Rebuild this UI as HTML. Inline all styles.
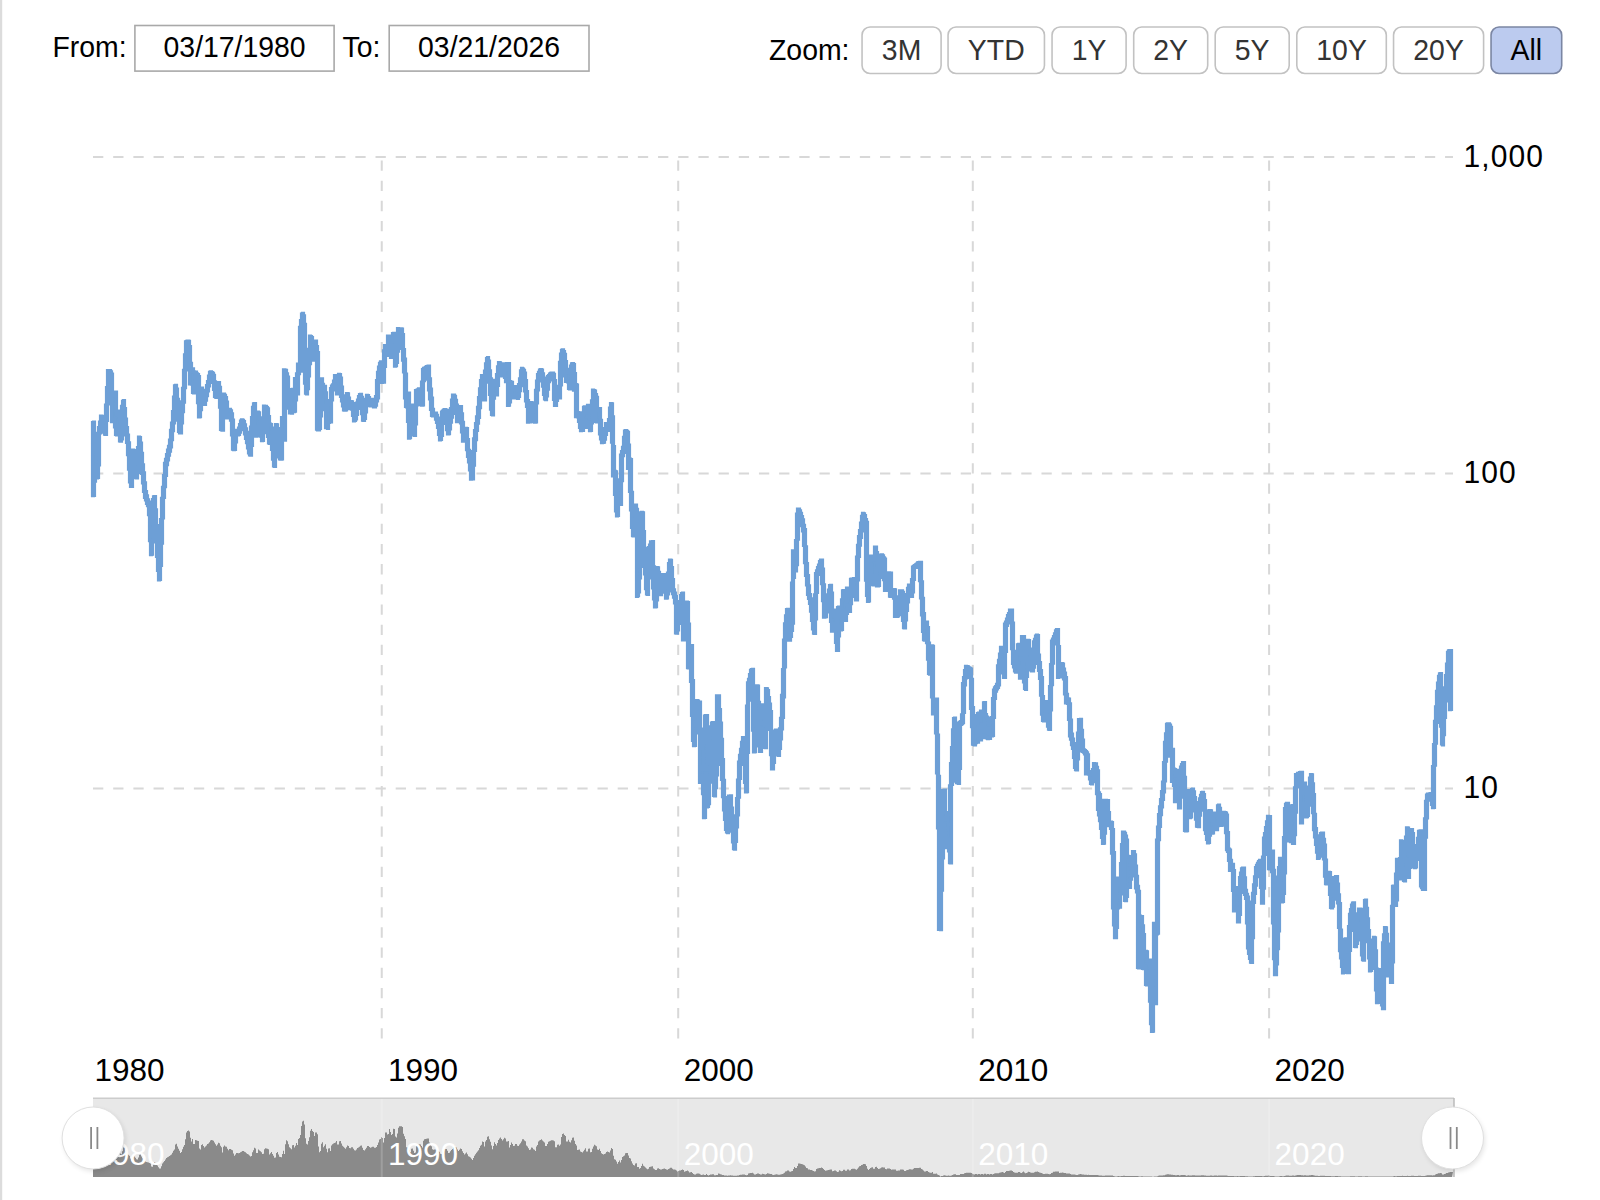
<!DOCTYPE html>
<html><head><meta charset="utf-8"><style>
html,body{margin:0;padding:0;background:#fff;width:1600px;height:1200px;overflow:hidden}
svg{position:absolute;left:0;top:0;font-family:"Liberation Sans", sans-serif}
</style></head><body>
<svg width="1600" height="1200" viewBox="0 0 1600 1200">
<defs><filter id="blur" x="-50%" y="-50%" width="200%" height="200%"><feGaussianBlur stdDeviation="2.5"/></filter></defs>
<rect x="0" y="0" width="2.2" height="1200" fill="#dcdcdc"/>
<text transform="translate(52.50,57.30) scale(1,1.060)" font-size="28.4" text-anchor="start" fill="#000" >From:</text>
<rect x="134.9" y="25.5" width="199.2" height="45.6" fill="#fff" stroke="#a9a9a9" stroke-width="1.6"/>
<text transform="translate(234.60,57.30) scale(1,1.060)" font-size="28.4" text-anchor="middle" fill="#000" >03/17/1980</text>
<text transform="translate(342.50,57.30) scale(1,1.060)" font-size="28.4" text-anchor="start" fill="#000" >To:</text>
<rect x="389.2" y="25.5" width="199.8" height="45.6" fill="#fff" stroke="#a9a9a9" stroke-width="1.6"/>
<text transform="translate(489.10,57.30) scale(1,1.060)" font-size="28.4" text-anchor="middle" fill="#000" >03/21/2026</text>
<text transform="translate(769.00,59.80) scale(1,1.060)" font-size="28.4" text-anchor="start" fill="#000" >Zoom:</text>
<rect x="862.05" y="27" width="79.05" height="46.5" rx="8" ry="8" fill="#ffffff" stroke="#c2c2c2" stroke-width="1.6"/><text transform="translate(901.58,59.80) scale(1,1.060)" font-size="28.4" text-anchor="middle" fill="#333" >3M</text><rect x="948.05" y="27" width="96.40" height="46.5" rx="8" ry="8" fill="#ffffff" stroke="#c2c2c2" stroke-width="1.6"/><text transform="translate(996.25,59.80) scale(1,1.060)" font-size="28.4" text-anchor="middle" fill="#333" >YTD</text><rect x="1052.05" y="27" width="74.05" height="46.5" rx="8" ry="8" fill="#ffffff" stroke="#c2c2c2" stroke-width="1.6"/><text transform="translate(1089.08,59.80) scale(1,1.060)" font-size="28.4" text-anchor="middle" fill="#333" >1Y</text><rect x="1133.70" y="27" width="74.00" height="46.5" rx="8" ry="8" fill="#ffffff" stroke="#c2c2c2" stroke-width="1.6"/><text transform="translate(1170.70,59.80) scale(1,1.060)" font-size="28.4" text-anchor="middle" fill="#333" >2Y</text><rect x="1215.20" y="27" width="74.00" height="46.5" rx="8" ry="8" fill="#ffffff" stroke="#c2c2c2" stroke-width="1.6"/><text transform="translate(1252.20,59.80) scale(1,1.060)" font-size="28.4" text-anchor="middle" fill="#333" >5Y</text><rect x="1296.80" y="27" width="89.50" height="46.5" rx="8" ry="8" fill="#ffffff" stroke="#c2c2c2" stroke-width="1.6"/><text transform="translate(1341.55,59.80) scale(1,1.060)" font-size="28.4" text-anchor="middle" fill="#333" >10Y</text><rect x="1393.55" y="27" width="90.05" height="46.5" rx="8" ry="8" fill="#ffffff" stroke="#c2c2c2" stroke-width="1.6"/><text transform="translate(1438.58,59.80) scale(1,1.060)" font-size="28.4" text-anchor="middle" fill="#333" >20Y</text><rect x="1491.05" y="27" width="70.65" height="46.5" rx="8" ry="8" fill="#bccbef" stroke="#7b86a3" stroke-width="1.6"/><text transform="translate(1526.38,59.80) scale(1,1.060)" font-size="28.4" text-anchor="middle" fill="#000" >All</text>
<line x1="93" y1="157.0" x2="1453" y2="157.0" stroke="#d8d8d8" stroke-width="2" stroke-dasharray="10.3 9.88"/><line x1="93" y1="473.5" x2="1453" y2="473.5" stroke="#d8d8d8" stroke-width="2" stroke-dasharray="10.3 9.88"/><line x1="93" y1="788.5" x2="1453" y2="788.5" stroke="#d8d8d8" stroke-width="2" stroke-dasharray="10.3 9.88"/><line x1="381.75" y1="160.5" x2="381.75" y2="1039.5" stroke="#d8d8d8" stroke-width="2" stroke-dasharray="10.3 9.88"/><line x1="678.20" y1="160.5" x2="678.20" y2="1039.5" stroke="#d8d8d8" stroke-width="2" stroke-dasharray="10.3 9.88"/><line x1="972.80" y1="160.5" x2="972.80" y2="1039.5" stroke="#d8d8d8" stroke-width="2" stroke-dasharray="10.3 9.88"/><line x1="1269.10" y1="160.5" x2="1269.10" y2="1039.5" stroke="#d8d8d8" stroke-width="2" stroke-dasharray="10.3 9.88"/>
<path d="M92.5,422.5 V422.5 H93.5 V422.1 H94.5 V448.5 H95.5 V448.8 H96.5 V454.3 H97.5 V433.3 H98.5 V427.6 H99.5 V422.0 H100.5 V416.0 H101.5 V416.3 H102.5 V416.8 H103.5 V421.9 H104.5 V421.5 H105.5 V405.2 H106.5 V387.7 H107.5 V370.5 H108.5 V370.5 H109.5 V370.5 H110.5 V371.9 H111.5 V374.0 H112.5 V394.7 H113.5 V392.7 H114.5 V392.2 H115.5 V392.2 H116.5 V414.7 H117.5 V412.0 H118.5 V411.1 H119.5 V418.8 H120.5 V423.7 H121.5 V406.3 H122.5 V401.4 H123.5 V400.5 H124.5 V408.5 H125.5 V419.1 H126.5 V427.5 H127.5 V435.1 H128.5 V442.8 H129.5 V455.6 H130.5 V470.0 H131.5 V460.0 H132.5 V450.0 H133.5 V450.7 H134.5 V455.4 H135.5 V462.2 H136.5 V460.6 H137.5 V447.5 H138.5 V437.2 H139.5 V437.7 H140.5 V443.1 H141.5 V453.3 H142.5 V464.8 H143.5 V472.9 H144.5 V482.8 H145.5 V491.7 H146.5 V495.9 H147.5 V499.8 H148.5 V502.2 H149.5 V505.6 H150.5 V515.7 H151.5 V522.5 H152.5 V499.6 H153.5 V496.8 H154.5 V496.7 H155.5 V509.9 H156.5 V525.5 H157.5 V541.4 H158.5 V557.0 H159.5 V545.0 H160.5 V519.6 H161.5 V498.3 H162.5 V487.3 H163.5 V475.7 H164.5 V463.4 H165.5 V459.4 H166.5 V454.6 H167.5 V450.1 H168.5 V446.4 H169.5 V440.0 H170.5 V430.3 H171.5 V423.0 H172.5 V411.6 H173.5 V397.1 H174.5 V385.9 H175.5 V385.3 H176.5 V389.1 H177.5 V399.3 H178.5 V409.9 H179.5 V419.6 H180.5 V412.0 H181.5 V401.8 H182.5 V388.4 H183.5 V370.4 H184.5 V354.9 H185.5 V341.8 H186.5 V341.3 H187.5 V341.0 H188.5 V341.3 H189.5 V346.5 H190.5 V363.3 H191.5 V369.0 H192.5 V368.8 H193.5 V371.9 H194.5 V372.2 H195.5 V372.2 H196.5 V373.9 H197.5 V374.7 H198.5 V376.6 H199.5 V398.1 H200.5 V388.8 H201.5 V388.2 H202.5 V390.4 H203.5 V397.4 H204.5 V395.1 H205.5 V390.3 H206.5 V385.6 H207.5 V381.5 H208.5 V376.1 H209.5 V372.3 H210.5 V371.9 H211.5 V372.6 H212.5 V373.3 H213.5 V375.4 H214.5 V381.9 H215.5 V389.3 H216.5 V384.7 H217.5 V383.0 H218.5 V382.5 H219.5 V387.4 H220.5 V394.9 H221.5 V406.7 H222.5 V394.4 H223.5 V394.2 H224.5 V395.4 H225.5 V397.7 H226.5 V402.2 H227.5 V409.6 H228.5 V409.7 H229.5 V409.3 H230.5 V410.9 H231.5 V413.8 H232.5 V420.0 H233.5 V434.9 H234.5 V433.6 H235.5 V430.4 H236.5 V430.6 H237.5 V431.2 H238.5 V428.0 H239.5 V424.5 H240.5 V421.0 H241.5 V419.9 H242.5 V420.3 H243.5 V421.6 H244.5 V424.8 H245.5 V428.8 H246.5 V432.4 H247.5 V437.8 H248.5 V442.3 H249.5 V446.8 H250.5 V427.2 H251.5 V417.6 H252.5 V407.3 H253.5 V403.9 H254.5 V403.5 H255.5 V414.2 H256.5 V412.1 H257.5 V412.1 H258.5 V412.8 H259.5 V417.9 H260.5 V422.7 H261.5 V427.2 H262.5 V418.2 H263.5 V406.2 H264.5 V406.8 H265.5 V406.4 H266.5 V407.7 H267.5 V408.8 H268.5 V416.5 H269.5 V424.0 H270.5 V424.6 H271.5 V428.2 H272.5 V438.2 H273.5 V449.8 H274.5 V438.2 H275.5 V424.7 H276.5 V424.9 H277.5 V428.7 H278.5 V442.5 H279.5 V454.8 H280.5 V437.8 H281.5 V417.7 H282.5 V418.3 H283.5 V369.8 H284.5 V370.1 H285.5 V370.4 H286.5 V373.8 H287.5 V377.0 H288.5 V389.5 H289.5 V403.2 H290.5 V397.5 H291.5 V389.8 H292.5 V389.4 H293.5 V394.4 H294.5 V378.6 H295.5 V378.8 H296.5 V373.8 H297.5 V364.2 H298.5 V364.3 H299.5 V327.3 H300.5 V320.5 H301.5 V314.0 H302.5 V313.4 H303.5 V315.9 H304.5 V324.3 H305.5 V362.7 H306.5 V375.8 H307.5 V362.0 H308.5 V349.4 H309.5 V336.2 H310.5 V336.6 H311.5 V337.6 H312.5 V341.5 H313.5 V341.4 H314.5 V341.8 H315.5 V341.2 H316.5 V346.5 H317.5 V352.7 H318.5 V417.4 H319.5 V396.0 H320.5 V379.0 H321.5 V378.9 H322.5 V384.3 H323.5 V386.8 H324.5 V386.3 H325.5 V392.9 H326.5 V410.8 H327.5 V404.1 H328.5 V404.3 H329.5 V400.6 H330.5 V388.5 H331.5 V386.0 H332.5 V384.9 H333.5 V381.1 H334.5 V375.7 H335.5 V375.6 H336.5 V375.8 H337.5 V380.5 H338.5 V374.3 H339.5 V374.7 H340.5 V378.1 H341.5 V387.0 H342.5 V395.8 H343.5 V400.0 H344.5 V402.8 H345.5 V396.2 H346.5 V393.5 H347.5 V393.8 H348.5 V398.2 H349.5 V403.5 H350.5 V401.7 H351.5 V401.9 H352.5 V403.7 H353.5 V409.4 H354.5 V413.7 H355.5 V408.1 H356.5 V403.2 H357.5 V400.2 H358.5 V396.7 H359.5 V394.5 H360.5 V394.3 H361.5 V397.3 H362.5 V404.7 H363.5 V411.6 H364.5 V405.2 H365.5 V399.4 H366.5 V395.3 H367.5 V395.7 H368.5 V397.7 H369.5 V401.5 H370.5 V401.0 H371.5 V399.6 H372.5 V399.3 H373.5 V400.5 H374.5 V401.0 H375.5 V396.6 H376.5 V380.6 H377.5 V372.4 H378.5 V367.0 H379.5 V363.4 H380.5 V361.9 H381.5 V361.9 H382.5 V367.4 H383.5 V350.9 H384.5 V345.6 H385.5 V345.5 H386.5 V348.6 H387.5 V336.2 H388.5 V336.0 H389.5 V336.3 H390.5 V345.7 H391.5 V338.8 H392.5 V333.6 H393.5 V333.3 H394.5 V341.3 H395.5 V350.9 H396.5 V338.9 H397.5 V328.6 H398.5 V329.5 H399.5 V329.2 H400.5 V328.9 H401.5 V329.0 H402.5 V334.6 H403.5 V349.5 H404.5 V359.1 H405.5 V374.0 H406.5 V396.3 H407.5 V393.9 H408.5 V393.2 H409.5 V413.1 H410.5 V405.6 H411.5 V405.2 H412.5 V410.8 H413.5 V419.9 H414.5 V405.5 H415.5 V390.5 H416.5 V390.3 H417.5 V389.8 H418.5 V388.9 H419.5 V388.8 H420.5 V391.0 H421.5 V382.1 H422.5 V369.6 H423.5 V368.3 H424.5 V368.1 H425.5 V367.4 H426.5 V366.6 H427.5 V366.3 H428.5 V366.1 H429.5 V378.9 H430.5 V389.0 H431.5 V398.2 H432.5 V409.4 H433.5 V413.5 H434.5 V413.1 H435.5 V413.1 H436.5 V415.3 H437.5 V418.0 H438.5 V421.5 H439.5 V427.6 H440.5 V423.3 H441.5 V412.0 H442.5 V411.0 H443.5 V410.1 H444.5 V409.7 H445.5 V410.0 H446.5 V410.4 H447.5 V419.9 H448.5 V422.5 H449.5 V416.9 H450.5 V408.5 H451.5 V400.2 H452.5 V395.0 H453.5 V395.1 H454.5 V396.4 H455.5 V400.3 H456.5 V405.0 H457.5 V412.9 H458.5 V408.7 H459.5 V406.6 H460.5 V406.7 H461.5 V413.8 H462.5 V422.4 H463.5 V431.4 H464.5 V428.6 H465.5 V428.3 H466.5 V428.6 H467.5 V439.6 H468.5 V450.3 H469.5 V455.9 H470.5 V461.8 H471.5 V465.1 H472.5 V451.7 H473.5 V438.9 H474.5 V430.5 H475.5 V423.6 H476.5 V416.8 H477.5 V407.4 H478.5 V397.7 H479.5 V388.9 H480.5 V380.7 H481.5 V375.7 H482.5 V376.2 H483.5 V382.7 H484.5 V371.2 H485.5 V363.8 H486.5 V358.5 H487.5 V357.7 H488.5 V361.1 H489.5 V370.8 H490.5 V378.8 H491.5 V395.0 H492.5 V380.6 H493.5 V380.3 H494.5 V382.9 H495.5 V385.2 H496.5 V374.5 H497.5 V366.9 H498.5 V362.7 H499.5 V362.8 H500.5 V364.8 H501.5 V369.4 H502.5 V366.0 H503.5 V363.8 H504.5 V364.0 H505.5 V369.3 H506.5 V363.6 H507.5 V363.7 H508.5 V363.6 H509.5 V381.7 H510.5 V382.0 H511.5 V382.3 H512.5 V388.9 H513.5 V389.5 H514.5 V386.5 H515.5 V386.6 H516.5 V389.5 H517.5 V390.4 H518.5 V384.7 H519.5 V378.9 H520.5 V370.8 H521.5 V368.4 H522.5 V369.0 H523.5 V370.3 H524.5 V373.2 H525.5 V380.6 H526.5 V391.5 H527.5 V400.5 H528.5 V406.5 H529.5 V405.5 H530.5 V402.6 H531.5 V402.8 H532.5 V406.3 H533.5 V411.8 H534.5 V403.5 H535.5 V390.4 H536.5 V381.0 H537.5 V374.5 H538.5 V372.4 H539.5 V370.1 H540.5 V369.6 H541.5 V370.0 H542.5 V373.8 H543.5 V378.2 H544.5 V385.9 H545.5 V388.1 H546.5 V381.1 H547.5 V376.6 H548.5 V375.7 H549.5 V374.0 H550.5 V373.4 H551.5 V373.0 H552.5 V373.0 H553.5 V374.4 H554.5 V380.5 H555.5 V393.4 H556.5 V389.9 H557.5 V389.0 H558.5 V386.4 H559.5 V362.3 H560.5 V354.2 H561.5 V350.4 H562.5 V349.9 H563.5 V351.7 H564.5 V354.3 H565.5 V361.5 H566.5 V372.5 H567.5 V369.5 H568.5 V369.4 H569.5 V373.2 H570.5 V366.0 H571.5 V363.9 H572.5 V363.7 H573.5 V364.5 H574.5 V373.7 H575.5 V384.5 H576.5 V385.0 H577.5 V412.5 H578.5 V412.8 H579.5 V412.8 H580.5 V421.7 H581.5 V422.3 H582.5 V415.1 H583.5 V407.4 H584.5 V406.9 H585.5 V407.0 H586.5 V412.8 H587.5 V405.4 H588.5 V405.3 H589.5 V410.2 H590.5 V412.7 H591.5 V400.9 H592.5 V390.2 H593.5 V390.5 H594.5 V391.2 H595.5 V394.7 H596.5 V397.3 H597.5 V410.3 H598.5 V408.6 H599.5 V408.7 H600.5 V420.3 H601.5 V433.6 H602.5 V437.6 H603.5 V434.2 H604.5 V428.6 H605.5 V423.5 H606.5 V423.9 H607.5 V424.4 H608.5 V419.5 H609.5 V408.1 H610.5 V403.6 H611.5 V403.8 H612.5 V416.8 H613.5 V446.7 H614.5 V471.4 H615.5 V471.9 H616.5 V495.3 H617.5 V480.0 H618.5 V480.8 H619.5 V479.9 H620.5 V455.2 H621.5 V451.7 H622.5 V447.4 H623.5 V437.4 H624.5 V431.2 H625.5 V430.6 H626.5 V431.4 H627.5 V432.3 H628.5 V445.0 H629.5 V459.2 H630.5 V459.5 H631.5 V492.3 H632.5 V511.5 H633.5 V514.7 H634.5 V505.6 H635.5 V505.0 H636.5 V509.3 H637.5 V517.5 H638.5 V565.3 H639.5 V539.1 H640.5 V512.8 H641.5 V512.3 H642.5 V512.8 H643.5 V531.7 H644.5 V548.3 H645.5 V560.1 H646.5 V574.6 H647.5 V557.0 H648.5 V547.6 H649.5 V545.0 H650.5 V541.9 H651.5 V541.8 H652.5 V541.7 H653.5 V566.8 H654.5 V588.6 H655.5 V579.3 H656.5 V567.7 H657.5 V567.8 H658.5 V572.4 H659.5 V582.5 H660.5 V585.3 H661.5 V580.0 H662.5 V574.7 H663.5 V574.9 H664.5 V574.5 H665.5 V583.4 H666.5 V584.4 H667.5 V573.2 H668.5 V563.6 H669.5 V560.1 H670.5 V560.3 H671.5 V567.6 H672.5 V579.6 H673.5 V589.8 H674.5 V593.0 H675.5 V596.3 H676.5 V606.0 H677.5 V616.0 H678.5 V608.9 H679.5 V601.7 H680.5 V595.7 H681.5 V593.6 H682.5 V593.1 H683.5 V612.9 H684.5 V619.9 H685.5 V610.8 H686.5 V602.2 H687.5 V602.5 H688.5 V624.1 H689.5 V649.9 H690.5 V646.3 H691.5 V645.7 H692.5 V680.6 H693.5 V717.1 H694.5 V715.8 H695.5 V701.0 H696.5 V700.5 H697.5 V701.1 H698.5 V702.2 H699.5 V702.0 H700.5 V729.2 H701.5 V748.3 H702.5 V743.7 H703.5 V742.9 H704.5 V716.0 H705.5 V715.6 H706.5 V715.7 H707.5 V763.4 H708.5 V752.7 H709.5 V734.7 H710.5 V726.9 H711.5 V723.2 H712.5 V722.6 H713.5 V745.0 H714.5 V775.6 H715.5 V763.4 H716.5 V695.8 H717.5 V695.8 H718.5 V695.8 H719.5 V709.5 H720.5 V723.2 H721.5 V739.3 H722.5 V759.5 H723.5 V780.4 H724.5 V797.7 H725.5 V810.8 H726.5 V820.1 H727.5 V809.5 H728.5 V796.1 H729.5 V796.4 H730.5 V795.9 H731.5 V808.2 H732.5 V820.3 H733.5 V831.5 H734.5 V828.2 H735.5 V815.8 H736.5 V798.6 H737.5 V780.2 H738.5 V762.0 H739.5 V755.3 H740.5 V749.4 H741.5 V742.3 H742.5 V737.5 H743.5 V737.5 H744.5 V745.0 H745.5 V758.4 H746.5 V706.0 H747.5 V682.8 H748.5 V679.3 H749.5 V674.7 H750.5 V670.3 H751.5 V669.7 H752.5 V669.3 H753.5 V701.2 H754.5 V720.1 H755.5 V697.3 H756.5 V685.9 H757.5 V686.2 H758.5 V702.4 H759.5 V724.2 H760.5 V705.0 H761.5 V705.0 H762.5 V704.9 H763.5 V717.7 H764.5 V725.9 H765.5 V688.7 H766.5 V688.8 H767.5 V690.6 H768.5 V697.6 H769.5 V704.1 H770.5 V711.5 H771.5 V731.8 H772.5 V752.8 H773.5 V741.9 H774.5 V731.0 H775.5 V730.1 H776.5 V730.7 H777.5 V741.3 H778.5 V738.5 H779.5 V728.9 H780.5 V718.4 H781.5 V695.4 H782.5 V669.5 H783.5 V640.2 H784.5 V623.8 H785.5 V615.8 H786.5 V609.6 H787.5 V609.4 H788.5 V614.4 H789.5 V630.5 H790.5 V623.0 H791.5 V583.1 H792.5 V550.9 H793.5 V550.8 H794.5 V555.4 H795.5 V540.5 H796.5 V514.1 H797.5 V509.0 H798.5 V509.0 H799.5 V510.8 H800.5 V513.3 H801.5 V516.7 H802.5 V519.9 H803.5 V525.3 H804.5 V529.6 H805.5 V546.9 H806.5 V563.6 H807.5 V575.7 H808.5 V585.9 H809.5 V594.6 H810.5 V598.8 H811.5 V601.9 H812.5 V611.6 H813.5 V620.0 H814.5 V594.9 H815.5 V573.5 H816.5 V570.8 H817.5 V567.5 H818.5 V565.0 H819.5 V561.7 H820.5 V560.1 H821.5 V560.0 H822.5 V569.2 H823.5 V584.8 H824.5 V601.1 H825.5 V606.4 H826.5 V600.9 H827.5 V594.8 H828.5 V590.0 H829.5 V585.7 H830.5 V585.4 H831.5 V593.1 H832.5 V615.8 H833.5 V610.7 H834.5 V610.0 H835.5 V618.2 H836.5 V630.0 H837.5 V607.6 H838.5 V607.2 H839.5 V607.7 H840.5 V616.8 H841.5 V599.9 H842.5 V590.8 H843.5 V590.7 H844.5 V598.4 H845.5 V594.3 H846.5 V588.0 H847.5 V588.2 H848.5 V595.8 H849.5 V589.9 H850.5 V579.3 H851.5 V579.1 H852.5 V579.4 H853.5 V578.6 H854.5 V579.4 H855.5 V579.0 H856.5 V557.2 H857.5 V545.4 H858.5 V536.7 H859.5 V530.7 H860.5 V523.2 H861.5 V516.4 H862.5 V513.4 H863.5 V513.8 H864.5 V515.7 H865.5 V519.6 H866.5 V522.4 H867.5 V581.3 H868.5 V564.8 H869.5 V561.0 H870.5 V556.0 H871.5 V556.5 H872.5 V556.2 H873.5 V560.2 H874.5 V547.2 H875.5 V547.0 H876.5 V552.7 H877.5 V569.8 H878.5 V568.7 H879.5 V561.5 H880.5 V555.1 H881.5 V554.8 H882.5 V555.8 H883.5 V557.8 H884.5 V559.1 H885.5 V579.2 H886.5 V572.8 H887.5 V572.8 H888.5 V572.8 H889.5 V573.4 H890.5 V573.1 H891.5 V592.4 H892.5 V590.5 H893.5 V589.5 H894.5 V589.8 H895.5 V598.8 H896.5 V614.1 H897.5 V606.8 H898.5 V596.9 H899.5 V590.8 H900.5 V591.2 H901.5 V590.9 H902.5 V592.4 H903.5 V599.4 H904.5 V610.0 H905.5 V601.4 H906.5 V594.6 H907.5 V588.4 H908.5 V585.0 H909.5 V585.4 H910.5 V587.4 H911.5 V579.7 H912.5 V567.1 H913.5 V566.3 H914.5 V565.7 H915.5 V564.8 H916.5 V564.1 H917.5 V562.9 H918.5 V562.5 H919.5 V562.3 H920.5 V562.3 H921.5 V581.9 H922.5 V598.4 H923.5 V613.5 H924.5 V627.9 H925.5 V622.1 H926.5 V622.2 H927.5 V627.7 H928.5 V643.1 H929.5 V660.8 H930.5 V646.2 H931.5 V645.8 H932.5 V646.4 H933.5 V702.1 H934.5 V699.2 H935.5 V699.8 H936.5 V699.1 H937.5 V735.0 H938.5 V776.4 H939.5 V837.0 H940.5 V861.6 H941.5 V825.3 H942.5 V790.6 H943.5 V790.3 H944.5 V790.1 H945.5 V812.5 H946.5 V814.5 H947.5 V813.8 H948.5 V814.5 H949.5 V785.8 H950.5 V763.7 H951.5 V747.6 H952.5 V729.9 H953.5 V718.5 H954.5 V718.0 H955.5 V733.9 H956.5 V779.1 H957.5 V772.6 H958.5 V723.0 H959.5 V722.3 H960.5 V721.7 H961.5 V714.9 H962.5 V683.6 H963.5 V677.6 H964.5 V670.7 H965.5 V666.4 H966.5 V666.5 H967.5 V666.8 H968.5 V667.8 H969.5 V668.4 H970.5 V669.2 H971.5 V679.3 H972.5 V707.6 H973.5 V725.6 H974.5 V715.6 H975.5 V715.7 H976.5 V723.3 H977.5 V713.6 H978.5 V713.1 H979.5 V721.2 H980.5 V711.2 H981.5 V711.4 H982.5 V714.3 H983.5 V702.9 H984.5 V702.6 H985.5 V714.5 H986.5 V717.1 H987.5 V718.0 H988.5 V724.7 H989.5 V719.5 H990.5 V719.3 H991.5 V717.7 H992.5 V698.6 H993.5 V690.2 H994.5 V687.9 H995.5 V686.5 H996.5 V684.3 H997.5 V665.8 H998.5 V660.3 H999.5 V654.1 H1000.5 V647.3 H1001.5 V647.8 H1002.5 V647.4 H1003.5 V650.7 H1004.5 V624.1 H1005.5 V622.1 H1006.5 V619.2 H1007.5 V615.7 H1008.5 V613.7 H1009.5 V610.0 H1010.5 V610.4 H1011.5 V610.2 H1012.5 V623.2 H1013.5 V652.0 H1014.5 V662.7 H1015.5 V663.1 H1016.5 V651.3 H1017.5 V644.8 H1018.5 V644.4 H1019.5 V652.4 H1020.5 V654.9 H1021.5 V636.5 H1022.5 V637.1 H1023.5 V636.6 H1024.5 V660.0 H1025.5 V660.7 H1026.5 V645.3 H1027.5 V640.3 H1028.5 V640.5 H1029.5 V649.1 H1030.5 V660.3 H1031.5 V667.1 H1032.5 V654.7 H1033.5 V641.9 H1034.5 V639.3 H1035.5 V636.2 H1036.5 V635.1 H1037.5 V635.5 H1038.5 V655.1 H1039.5 V662.5 H1040.5 V670.7 H1041.5 V677.5 H1042.5 V696.5 H1043.5 V709.6 H1044.5 V704.0 H1045.5 V701.5 H1046.5 V701.8 H1047.5 V708.9 H1048.5 V711.9 H1049.5 V686.6 H1050.5 V664.5 H1051.5 V641.0 H1052.5 V639.0 H1053.5 V636.5 H1054.5 V633.8 H1055.5 V630.9 H1056.5 V629.7 H1057.5 V629.5 H1058.5 V646.6 H1059.5 V668.4 H1060.5 V663.7 H1061.5 V663.6 H1062.5 V664.2 H1063.5 V669.1 H1064.5 V673.0 H1065.5 V677.7 H1066.5 V694.4 H1067.5 V698.9 H1068.5 V699.0 H1069.5 V703.8 H1070.5 V720.0 H1071.5 V734.1 H1072.5 V739.1 H1073.5 V743.6 H1074.5 V747.8 H1075.5 V757.0 H1076.5 V747.1 H1077.5 V733.2 H1078.5 V719.6 H1079.5 V719.9 H1080.5 V719.3 H1081.5 V730.3 H1082.5 V740.1 H1083.5 V749.9 H1084.5 V750.7 H1085.5 V751.5 H1086.5 V752.8 H1087.5 V754.9 H1088.5 V771.9 H1089.5 V771.5 H1090.5 V773.4 H1091.5 V774.9 H1092.5 V769.6 H1093.5 V763.6 H1094.5 V763.9 H1095.5 V763.8 H1096.5 V767.3 H1097.5 V770.8 H1098.5 V792.9 H1099.5 V794.6 H1100.5 V813.7 H1101.5 V819.4 H1102.5 V828.0 H1103.5 V800.3 H1104.5 V800.7 H1105.5 V800.4 H1106.5 V800.9 H1107.5 V800.6 H1108.5 V812.6 H1109.5 V822.9 H1110.5 V822.1 H1111.5 V822.5 H1112.5 V829.7 H1113.5 V852.7 H1114.5 V909.5 H1115.5 V901.0 H1116.5 V878.7 H1117.5 V878.0 H1118.5 V885.2 H1119.5 V879.2 H1120.5 V863.5 H1121.5 V844.7 H1122.5 V832.2 H1123.5 V832.1 H1124.5 V833.4 H1125.5 V836.0 H1126.5 V840.0 H1127.5 V856.3 H1128.5 V856.8 H1129.5 V856.5 H1130.5 V865.2 H1131.5 V857.3 H1132.5 V851.7 H1133.5 V851.7 H1134.5 V854.9 H1135.5 V866.1 H1136.5 V876.4 H1137.5 V886.3 H1138.5 V891.3 H1139.5 V916.2 H1140.5 V916.9 H1141.5 V916.6 H1142.5 V925.8 H1143.5 V934.6 H1144.5 V953.2 H1145.5 V951.4 H1146.5 V951.8 H1147.5 V960.9 H1148.5 V960.3 H1149.5 V960.1 H1150.5 V982.9 H1151.5 V1000.5 H1152.5 V966.1 H1153.5 V923.3 H1154.5 V924.0 H1155.5 V925.4 H1156.5 V840.1 H1157.5 V827.0 H1158.5 V814.7 H1159.5 V806.8 H1160.5 V799.7 H1161.5 V791.6 H1162.5 V782.1 H1163.5 V762.5 H1164.5 V742.3 H1165.5 V733.9 H1166.5 V724.4 H1167.5 V723.8 H1168.5 V723.8 H1169.5 V725.1 H1170.5 V727.3 H1171.5 V749.4 H1172.5 V749.4 H1173.5 V769.1 H1174.5 V769.5 H1175.5 V776.2 H1176.5 V770.4 H1177.5 V771.3 H1178.5 V784.5 H1179.5 V771.3 H1180.5 V767.2 H1181.5 V764.6 H1182.5 V762.5 H1183.5 V762.5 H1184.5 V777.3 H1185.5 V800.0 H1186.5 V791.0 H1187.5 V790.8 H1188.5 V790.6 H1189.5 V803.8 H1190.5 V796.8 H1191.5 V789.7 H1192.5 V789.2 H1193.5 V791.9 H1194.5 V797.7 H1195.5 V804.3 H1196.5 V811.0 H1197.5 V814.3 H1198.5 V802.6 H1199.5 V798.8 H1200.5 V795.4 H1201.5 V792.5 H1202.5 V792.3 H1203.5 V794.5 H1204.5 V800.7 H1205.5 V811.3 H1206.5 V827.9 H1207.5 V833.6 H1208.5 V810.9 H1209.5 V810.7 H1210.5 V810.8 H1211.5 V819.7 H1212.5 V820.9 H1213.5 V813.1 H1214.5 V813.8 H1215.5 V815.5 H1216.5 V814.5 H1217.5 V805.9 H1218.5 V805.1 H1219.5 V808.4 H1220.5 V814.5 H1221.5 V818.0 H1222.5 V814.8 H1223.5 V812.4 H1224.5 V812.6 H1225.5 V813.0 H1226.5 V815.1 H1227.5 V832.6 H1228.5 V849.2 H1229.5 V850.2 H1230.5 V860.4 H1231.5 V864.5 H1232.5 V864.4 H1233.5 V870.6 H1234.5 V891.9 H1235.5 V887.7 H1236.5 V887.5 H1237.5 V889.9 H1238.5 V894.1 H1239.5 V877.6 H1240.5 V873.0 H1241.5 V868.9 H1242.5 V868.1 H1243.5 V868.0 H1244.5 V877.8 H1245.5 V890.4 H1246.5 V894.3 H1247.5 V897.0 H1248.5 V925.3 H1249.5 V948.2 H1250.5 V936.6 H1251.5 V902.2 H1252.5 V893.4 H1253.5 V884.9 H1254.5 V876.9 H1255.5 V867.7 H1256.5 V865.4 H1257.5 V863.3 H1258.5 V861.5 H1259.5 V860.3 H1260.5 V860.5 H1261.5 V868.0 H1262.5 V857.0 H1263.5 V838.1 H1264.5 V833.5 H1265.5 V827.5 H1266.5 V821.8 H1267.5 V816.3 H1268.5 V816.8 H1269.5 V816.5 H1270.5 V855.2 H1271.5 V851.6 H1272.5 V851.2 H1273.5 V870.3 H1274.5 V925.9 H1275.5 V948.9 H1276.5 V931.7 H1277.5 V877.0 H1278.5 V867.6 H1279.5 V858.4 H1280.5 V858.5 H1281.5 V858.7 H1282.5 V874.3 H1283.5 V837.6 H1284.5 V808.6 H1285.5 V804.4 H1286.5 V803.3 H1287.5 V803.3 H1288.5 V812.8 H1289.5 V827.1 H1290.5 V815.7 H1291.5 V805.8 H1292.5 V805.5 H1293.5 V813.3 H1294.5 V787.9 H1295.5 V774.6 H1296.5 V774.6 H1297.5 V773.4 H1298.5 V773.6 H1299.5 V772.5 H1300.5 V772.4 H1301.5 V772.3 H1302.5 V792.7 H1303.5 V783.0 H1304.5 V783.2 H1305.5 V788.3 H1306.5 V803.9 H1307.5 V796.9 H1308.5 V787.0 H1309.5 V778.0 H1310.5 V774.5 H1311.5 V774.9 H1312.5 V783.8 H1313.5 V794.6 H1314.5 V814.3 H1315.5 V828.6 H1316.5 V835.9 H1317.5 V843.9 H1318.5 V848.4 H1319.5 V841.1 H1320.5 V833.7 H1321.5 V833.2 H1322.5 V833.0 H1323.5 V839.4 H1324.5 V845.2 H1325.5 V860.2 H1326.5 V877.3 H1327.5 V874.1 H1328.5 V872.3 H1329.5 V872.5 H1330.5 V877.5 H1331.5 V895.3 H1332.5 V891.8 H1333.5 V885.4 H1334.5 V877.7 H1335.5 V876.5 H1336.5 V876.5 H1337.5 V884.1 H1338.5 V894.8 H1339.5 V903.7 H1340.5 V930.0 H1341.5 V950.2 H1342.5 V957.7 H1343.5 V953.1 H1344.5 V939.3 H1345.5 V938.9 H1346.5 V941.4 H1347.5 V951.7 H1348.5 V926.6 H1349.5 V914.4 H1350.5 V909.7 H1351.5 V905.0 H1352.5 V903.0 H1353.5 V902.9 H1354.5 V913.9 H1355.5 V932.6 H1356.5 V926.4 H1357.5 V917.7 H1358.5 V909.0 H1359.5 V909.2 H1360.5 V909.4 H1361.5 V925.3 H1362.5 V940.3 H1363.5 V912.7 H1364.5 V900.5 H1365.5 V900.1 H1366.5 V908.3 H1367.5 V918.8 H1368.5 V930.5 H1369.5 V942.8 H1370.5 V958.6 H1371.5 V949.4 H1372.5 V940.1 H1373.5 V937.3 H1374.5 V937.9 H1375.5 V950.9 H1376.5 V969.2 H1377.5 V982.3 H1378.5 V969.6 H1379.5 V969.8 H1380.5 V969.5 H1381.5 V982.0 H1382.5 V942.8 H1383.5 V934.8 H1384.5 V927.7 H1385.5 V927.9 H1386.5 V934.3 H1387.5 V957.2 H1388.5 V944.2 H1389.5 V944.6 H1390.5 V944.3 H1391.5 V906.3 H1392.5 V886.4 H1393.5 V886.1 H1394.5 V891.5 H1395.5 V874.2 H1396.5 V859.3 H1397.5 V859.7 H1398.5 V863.6 H1399.5 V858.6 H1400.5 V840.8 H1401.5 V841.4 H1402.5 V846.5 H1403.5 V862.0 H1404.5 V851.8 H1405.5 V837.0 H1406.5 V827.9 H1407.5 V828.2 H1408.5 V853.5 H1409.5 V838.8 H1410.5 V829.7 H1411.5 V829.5 H1412.5 V833.6 H1413.5 V845.6 H1414.5 V855.3 H1415.5 V853.1 H1416.5 V845.7 H1417.5 V838.4 H1418.5 V831.4 H1419.5 V831.0 H1420.5 V830.9 H1421.5 V859.7 H1422.5 V884.5 H1423.5 V840.7 H1424.5 V818.9 H1425.5 V801.4 H1426.5 V795.1 H1427.5 V794.0 H1428.5 V794.2 H1429.5 V793.8 H1430.5 V793.7 H1431.5 V795.5 H1432.5 V766.6 H1433.5 V744.6 H1434.5 V721.3 H1435.5 V706.8 H1436.5 V691.4 H1437.5 V683.1 H1438.5 V676.3 H1439.5 V673.9 H1440.5 V673.5 H1441.5 V699.7 H1442.5 V719.0 H1443.5 V701.3 H1444.5 V687.8 H1445.5 V675.7 H1446.5 V664.2 H1447.5 V652.3 H1448.5 V650.9 H1449.5 V650.7 H1450.5 V650.6 H1451.5 V709.4 H1450.5 V709.6 H1449.5 V663.6 H1448.5 V675.2 H1447.5 V686.6 H1446.5 V701.0 H1445.5 V717.4 H1444.5 V734.6 H1443.5 V745.0 H1442.5 V744.0 H1441.5 V726.2 H1440.5 V696.9 H1439.5 V690.5 H1438.5 V706.6 H1437.5 V722.4 H1436.5 V743.1 H1435.5 V765.2 H1434.5 V807.4 H1433.5 V807.7 H1432.5 V804.5 H1431.5 V799.7 H1430.5 V796.4 H1429.5 V796.2 H1428.5 V800.1 H1427.5 V818.0 H1426.5 V837.1 H1425.5 V889.3 H1424.5 V889.2 H1423.5 V889.3 H1422.5 V887.7 H1421.5 V885.9 H1420.5 V856.8 H1419.5 V845.5 H1418.5 V853.3 H1417.5 V859.3 H1416.5 V866.9 H1415.5 V867.6 H1414.5 V867.0 H1413.5 V855.6 H1412.5 V844.4 H1411.5 V852.9 H1410.5 V867.4 H1409.5 V877.4 H1408.5 V877.0 H1407.5 V859.3 H1406.5 V868.0 H1405.5 V881.0 H1404.5 V880.5 H1403.5 V876.7 H1402.5 V861.7 H1401.5 V879.0 H1400.5 V878.9 H1399.5 V878.8 H1398.5 V872.6 H1397.5 V900.0 H1396.5 V905.3 H1395.5 V905.1 H1394.5 V900.8 H1393.5 V962.0 H1392.5 V982.3 H1391.5 V982.5 H1390.5 V965.2 H1389.5 V969.0 H1388.5 V975.6 H1387.5 V975.9 H1386.5 V960.4 H1385.5 V942.2 H1384.5 V1008.6 H1383.5 V1008.7 H1382.5 V1004.9 H1381.5 V992.9 H1380.5 V982.3 H1379.5 V995.1 H1378.5 V1002.4 H1377.5 V1002.6 H1376.5 V989.8 H1375.5 V968.1 H1374.5 V952.4 H1373.5 V958.9 H1372.5 V968.3 H1371.5 V970.5 H1370.5 V970.8 H1369.5 V957.9 H1368.5 V941.6 H1367.5 V930.2 H1366.5 V918.4 H1365.5 V938.5 H1364.5 V960.2 H1363.5 V959.7 H1362.5 V954.8 H1361.5 V940.0 H1360.5 V924.7 H1359.5 V926.4 H1358.5 V935.9 H1357.5 V943.3 H1356.5 V946.7 H1355.5 V946.3 H1354.5 V930.4 H1353.5 V912.8 H1352.5 V915.0 H1351.5 V924.5 H1350.5 V950.3 H1349.5 V972.7 H1348.5 V972.7 H1347.5 V970.9 H1346.5 V955.3 H1345.5 V968.1 H1344.5 V972.4 H1343.5 V972.8 H1342.5 V966.4 H1341.5 V957.8 H1340.5 V950.7 H1339.5 V927.4 H1338.5 V902.9 H1337.5 V894.0 H1336.5 V886.2 H1335.5 V892.0 H1334.5 V899.2 H1333.5 V906.2 H1332.5 V908.0 H1331.5 V907.4 H1330.5 V894.3 H1329.5 V878.5 H1328.5 V881.8 H1327.5 V884.0 H1326.5 V883.6 H1325.5 V876.1 H1324.5 V858.9 H1323.5 V845.0 H1322.5 V841.2 H1321.5 V848.7 H1320.5 V856.2 H1319.5 V857.8 H1318.5 V858.3 H1317.5 V852.2 H1316.5 V844.3 H1315.5 V836.9 H1314.5 V829.6 H1313.5 V812.6 H1312.5 V794.3 H1311.5 V787.1 H1310.5 V796.5 H1309.5 V805.1 H1308.5 V815.3 H1307.5 V816.7 H1306.5 V816.8 H1305.5 V803.6 H1304.5 V805.6 H1303.5 V816.6 H1302.5 V822.9 H1301.5 V822.9 H1300.5 V775.2 H1299.5 V775.5 H1298.5 V775.5 H1297.5 V787.0 H1296.5 V812.1 H1295.5 V834.7 H1294.5 V843.4 H1293.5 V843.3 H1292.5 V828.1 H1291.5 V841.6 H1290.5 V841.0 H1289.5 V840.9 H1288.5 V827.1 H1287.5 V812.8 H1286.5 V838.7 H1285.5 V873.0 H1284.5 V893.5 H1283.5 V901.5 H1282.5 V902.0 H1281.5 V883.2 H1280.5 V878.2 H1279.5 V931.0 H1278.5 V948.7 H1277.5 V963.8 H1276.5 V974.7 H1275.5 V974.6 H1274.5 V958.7 H1273.5 V923.0 H1272.5 V871.7 H1271.5 V868.0 H1270.5 V868.8 H1269.5 V868.7 H1268.5 V827.6 H1267.5 V833.8 H1266.5 V838.9 H1265.5 V854.5 H1264.5 V888.2 H1263.5 V903.2 H1262.5 V903.2 H1261.5 V887.3 H1260.5 V867.1 H1259.5 V866.3 H1258.5 V869.1 H1257.5 V876.6 H1256.5 V885.1 H1255.5 V893.3 H1254.5 V902.3 H1253.5 V937.6 H1252.5 V962.3 H1251.5 V962.1 H1250.5 V958.3 H1249.5 V953.4 H1248.5 V947.8 H1247.5 V922.9 H1246.5 V898.3 H1245.5 V894.4 H1244.5 V889.9 H1243.5 V876.8 H1242.5 V877.7 H1241.5 V892.4 H1240.5 V914.4 H1239.5 V921.8 H1238.5 V921.9 H1237.5 V907.8 H1236.5 V910.6 H1235.5 V910.6 H1234.5 V910.8 H1233.5 V890.5 H1232.5 V869.3 H1231.5 V870.1 H1230.5 V870.5 H1229.5 V860.5 H1228.5 V851.4 H1227.5 V849.7 H1226.5 V832.7 H1225.5 V815.3 H1224.5 V819.4 H1223.5 V822.3 H1222.5 V825.2 H1221.5 V825.4 H1220.5 V822.8 H1219.5 V815.5 H1218.5 V825.6 H1217.5 V829.6 H1216.5 V829.6 H1215.5 V823.9 H1214.5 V829.7 H1213.5 V832.8 H1212.5 V833.2 H1211.5 V827.9 H1210.5 V835.1 H1209.5 V842.3 H1208.5 V842.8 H1207.5 V839.3 H1206.5 V833.5 H1205.5 V829.7 H1204.5 V810.1 H1203.5 V801.8 H1202.5 V799.4 H1201.5 V804.1 H1200.5 V815.2 H1199.5 V826.7 H1198.5 V826.3 H1197.5 V826.2 H1196.5 V819.1 H1195.5 V810.9 H1194.5 V804.5 H1193.5 V798.3 H1192.5 V806.7 H1191.5 V816.8 H1190.5 V817.6 H1189.5 V817.2 H1188.5 V811.0 H1187.5 V830.6 H1186.5 V830.8 H1185.5 V830.3 H1184.5 V797.1 H1183.5 V776.6 H1182.5 V771.5 H1181.5 V789.5 H1180.5 V807.9 H1179.5 V808.0 H1178.5 V801.3 H1177.5 V790.2 H1176.5 V800.8 H1175.5 V801.7 H1174.5 V785.4 H1173.5 V781.3 H1172.5 V781.4 H1171.5 V754.4 H1170.5 V756.2 H1169.5 V756.2 H1168.5 V735.0 H1167.5 V744.0 H1166.5 V761.1 H1165.5 V781.0 H1164.5 V792.0 H1163.5 V799.4 H1162.5 V806.8 H1161.5 V814.6 H1160.5 V826.4 H1159.5 V839.7 H1158.5 V933.1 H1157.5 V933.8 H1156.5 V1003.7 H1155.5 V1003.6 H1154.5 V1003.1 H1153.5 V1031.1 H1152.5 V1031.3 H1151.5 V1023.6 H1150.5 V1001.1 H1149.5 V981.1 H1148.5 V984.9 H1147.5 V984.9 H1146.5 V984.3 H1145.5 V966.3 H1144.5 V968.7 H1143.5 V968.5 H1142.5 V934.8 H1141.5 V942.9 H1140.5 V967.3 H1139.5 V967.9 H1138.5 V967.5 H1137.5 V892.0 H1136.5 V887.9 H1135.5 V875.9 H1134.5 V866.3 H1133.5 V864.8 H1132.5 V872.2 H1131.5 V879.2 H1130.5 V887.3 H1129.5 V887.0 H1128.5 V887.3 H1127.5 V896.3 H1126.5 V900.7 H1125.5 V900.4 H1124.5 V844.1 H1123.5 V862.2 H1122.5 V880.1 H1121.5 V894.0 H1120.5 V907.2 H1119.5 V907.1 H1118.5 V907.8 H1117.5 V927.5 H1116.5 V937.6 H1115.5 V937.7 H1114.5 V925.0 H1113.5 V907.8 H1112.5 V853.2 H1111.5 V828.5 H1110.5 V825.6 H1109.5 V825.6 H1108.5 V825.7 H1107.5 V813.8 H1106.5 V801.3 H1105.5 V833.2 H1104.5 V843.2 H1103.5 V843.3 H1102.5 V837.5 H1101.5 V828.4 H1100.5 V820.6 H1099.5 V815.0 H1098.5 V809.3 H1097.5 V793.7 H1096.5 V771.6 H1095.5 V770.2 H1094.5 V775.6 H1093.5 V781.7 H1092.5 V783.9 H1091.5 V783.4 H1090.5 V778.8 H1089.5 V774.1 H1088.5 V773.6 H1087.5 V773.4 H1086.5 V773.9 H1085.5 V754.0 H1084.5 V752.1 H1083.5 V751.5 H1082.5 V750.8 H1081.5 V739.7 H1080.5 V732.7 H1079.5 V746.7 H1078.5 V759.0 H1077.5 V769.9 H1076.5 V769.6 H1075.5 V767.3 H1074.5 V757.3 H1073.5 V748.5 H1072.5 V744.6 H1071.5 V739.2 H1070.5 V735.9 H1069.5 V719.4 H1068.5 V703.4 H1067.5 V702.6 H1066.5 V702.8 H1065.5 V693.8 H1064.5 V679.0 H1063.5 V674.0 H1062.5 V669.1 H1061.5 V672.8 H1060.5 V676.8 H1059.5 V676.6 H1058.5 V677.3 H1057.5 V643.8 H1056.5 V637.2 H1055.5 V639.6 H1054.5 V642.6 H1053.5 V663.2 H1052.5 V684.6 H1051.5 V710.0 H1050.5 V729.5 H1049.5 V729.2 H1048.5 V726.2 H1047.5 V717.7 H1046.5 V709.3 H1045.5 V715.7 H1044.5 V720.8 H1043.5 V720.5 H1042.5 V714.1 H1041.5 V695.2 H1040.5 V678.3 H1039.5 V670.5 H1038.5 V663.3 H1037.5 V656.1 H1036.5 V642.9 H1035.5 V653.9 H1034.5 V667.1 H1033.5 V670.8 H1032.5 V670.9 H1031.5 V669.8 H1030.5 V667.9 H1029.5 V659.7 H1028.5 V659.5 H1027.5 V676.3 H1026.5 V689.3 H1025.5 V688.5 H1024.5 V681.8 H1023.5 V658.5 H1022.5 V672.4 H1021.5 V678.2 H1020.5 V678.1 H1019.5 V666.9 H1018.5 V663.0 H1017.5 V672.1 H1016.5 V672.2 H1015.5 V670.9 H1014.5 V667.0 H1013.5 V663.3 H1012.5 V648.7 H1011.5 V622.9 H1010.5 V616.8 H1009.5 V619.3 H1008.5 V622.8 H1007.5 V625.4 H1006.5 V651.5 H1005.5 V677.3 H1004.5 V677.3 H1003.5 V673.0 H1002.5 V660.0 H1001.5 V659.9 H1000.5 V666.4 H999.5 V684.8 H998.5 V687.3 H997.5 V689.0 H996.5 V691.1 H995.5 V698.4 H994.5 V717.5 H993.5 V735.4 H992.5 V736.0 H991.5 V735.6 H990.5 V738.3 H989.5 V738.4 H988.5 V738.6 H987.5 V737.9 H986.5 V737.3 H985.5 V737.7 H984.5 V735.4 H983.5 V735.9 H982.5 V735.5 H981.5 V739.9 H980.5 V739.3 H979.5 V739.3 H978.5 V742.1 H977.5 V742.2 H976.5 V742.7 H975.5 V745.0 H974.5 V744.3 H973.5 V744.1 H972.5 V726.6 H971.5 V708.4 H970.5 V677.4 H969.5 V670.8 H968.5 V669.8 H967.5 V671.0 H966.5 V677.9 H965.5 V684.9 H964.5 V712.4 H963.5 V722.7 H962.5 V723.6 H961.5 V724.4 H960.5 V768.4 H959.5 V783.4 H958.5 V782.9 H957.5 V782.6 H956.5 V781.1 H955.5 V780.5 H954.5 V746.4 H953.5 V764.7 H952.5 V784.3 H951.5 V863.0 H950.5 V862.7 H949.5 V850.8 H948.5 V839.4 H947.5 V847.3 H946.5 V847.7 H945.5 V833.0 H944.5 V823.1 H943.5 V857.8 H942.5 V890.1 H941.5 V929.6 H940.5 V929.4 H939.5 V929.5 H938.5 V828.0 H937.5 V773.0 H936.5 V732.8 H935.5 V710.3 H934.5 V713.9 H933.5 V713.9 H932.5 V696.8 H931.5 V673.8 H930.5 V674.1 H929.5 V673.4 H928.5 V659.2 H927.5 V642.6 H926.5 V636.2 H925.5 V640.1 H924.5 V639.7 H923.5 V631.4 H922.5 V614.9 H921.5 V597.8 H920.5 V580.7 H919.5 V565.6 H918.5 V565.5 H917.5 V566.7 H916.5 V567.3 H915.5 V567.5 H914.5 V579.5 H913.5 V592.0 H912.5 V596.4 H911.5 V596.5 H910.5 V593.2 H909.5 V595.8 H908.5 V601.9 H907.5 V610.4 H906.5 V619.8 H905.5 V627.9 H904.5 V627.6 H903.5 V620.5 H902.5 V598.3 H901.5 V596.7 H900.5 V606.3 H899.5 V614.6 H898.5 V615.8 H897.5 V616.5 H896.5 V616.3 H895.5 V616.4 H894.5 V598.2 H893.5 V594.3 H892.5 V595.9 H891.5 V596.4 H890.5 V596.1 H889.5 V573.7 H888.5 V579.0 H887.5 V586.1 H886.5 V590.3 H885.5 V590.3 H884.5 V579.6 H883.5 V560.6 H882.5 V561.9 H881.5 V569.0 H880.5 V577.3 H879.5 V585.5 H878.5 V585.8 H877.5 V585.9 H876.5 V568.7 H875.5 V575.8 H874.5 V584.8 H873.5 V584.7 H872.5 V575.2 H871.5 V564.7 H870.5 V583.5 H869.5 V601.0 H868.5 V601.3 H867.5 V595.4 H866.5 V580.1 H865.5 V522.7 H864.5 V520.1 H863.5 V524.0 H862.5 V530.9 H861.5 V537.4 H860.5 V545.1 H859.5 V556.5 H858.5 V579.9 H857.5 V599.9 H856.5 V600.0 H855.5 V596.3 H854.5 V587.6 H853.5 V579.6 H852.5 V589.2 H851.5 V603.6 H850.5 V611.3 H849.5 V611.1 H848.5 V605.4 H847.5 V613.4 H846.5 V620.3 H845.5 V620.1 H844.5 V610.2 H843.5 V616.4 H842.5 V629.4 H841.5 V629.8 H840.5 V626.2 H839.5 V635.8 H838.5 V650.3 H837.5 V650.5 H836.5 V642.5 H835.5 V630.6 H834.5 V624.4 H833.5 V630.5 H832.5 V631.2 H831.5 V621.3 H830.5 V595.6 H829.5 V601.3 H828.5 V606.1 H827.5 V611.9 H826.5 V616.7 H825.5 V616.9 H824.5 V617.1 H823.5 V600.7 H822.5 V583.7 H821.5 V568.6 H820.5 V568.7 H819.5 V571.9 H818.5 V574.3 H817.5 V592.4 H816.5 V618.8 H815.5 V633.5 H814.5 V633.1 H813.5 V628.8 H812.5 V620.4 H811.5 V611.2 H810.5 V603.4 H809.5 V598.5 H808.5 V594.4 H807.5 V584.9 H806.5 V575.3 H805.5 V562.6 H804.5 V545.5 H803.5 V530.9 H802.5 V525.7 H801.5 V520.7 H800.5 V517.5 H799.5 V514.7 H798.5 V539.1 H797.5 V564.6 H796.5 V570.8 H795.5 V570.6 H794.5 V577.4 H793.5 V623.1 H792.5 V630.4 H791.5 V636.3 H790.5 V640.2 H789.5 V640.1 H788.5 V630.9 H787.5 V624.2 H786.5 V637.3 H785.5 V667.0 H784.5 V696.8 H783.5 V717.4 H782.5 V728.8 H781.5 V738.8 H780.5 V748.4 H779.5 V755.3 H778.5 V754.8 H777.5 V751.5 H776.5 V741.5 H775.5 V752.5 H774.5 V762.3 H773.5 V768.8 H772.5 V768.8 H771.5 V754.7 H770.5 V729.5 H769.5 V710.8 H768.5 V704.3 H767.5 V721.4 H766.5 V747.7 H765.5 V747.4 H764.5 V741.0 H763.5 V729.6 H762.5 V728.3 H761.5 V751.5 H760.5 V751.4 H759.5 V746.0 H758.5 V721.7 H757.5 V717.7 H756.5 V743.6 H755.5 V751.7 H754.5 V751.9 H753.5 V730.2 H752.5 V699.2 H751.5 V679.7 H750.5 V683.2 H749.5 V700.2 H748.5 V752.3 H747.5 V791.7 H746.5 V792.0 H745.5 V782.3 H744.5 V764.3 H743.5 V749.2 H742.5 V755.2 H741.5 V762.4 H740.5 V778.5 H739.5 V797.2 H738.5 V814.8 H737.5 V826.8 H736.5 V841.3 H735.5 V849.1 H734.5 V848.6 H733.5 V841.9 H732.5 V831.2 H731.5 V820.2 H730.5 V808.6 H729.5 V821.8 H728.5 V832.6 H727.5 V832.0 H726.5 V829.4 H725.5 V819.5 H724.5 V810.0 H723.5 V796.6 H722.5 V779.5 H721.5 V758.3 H720.5 V738.2 H719.5 V722.2 H718.5 V764.3 H717.5 V775.0 H716.5 V787.6 H715.5 V795.8 H714.5 V795.5 H713.5 V782.2 H712.5 V742.1 H711.5 V753.8 H710.5 V777.4 H709.5 V803.7 H708.5 V806.3 H707.5 V806.9 H706.5 V773.1 H705.5 V817.3 H704.5 V817.7 H703.5 V793.6 H702.5 V775.6 H701.5 V782.5 H700.5 V782.3 H699.5 V729.8 H698.5 V703.6 H697.5 V715.0 H696.5 V732.9 H695.5 V745.5 H694.5 V745.7 H693.5 V740.3 H692.5 V715.4 H691.5 V681.4 H690.5 V664.6 H689.5 V667.8 H688.5 V667.6 H687.5 V619.4 H686.5 V629.5 H685.5 V639.8 H684.5 V639.7 H683.5 V640.0 H682.5 V611.8 H681.5 V609.0 H680.5 V615.8 H679.5 V623.4 H678.5 V629.8 H677.5 V633.1 H676.5 V632.9 H675.5 V602.9 H674.5 V597.1 H673.5 V593.6 H672.5 V590.8 H671.5 V579.3 H670.5 V573.1 H669.5 V584.0 H668.5 V593.8 H667.5 V597.8 H666.5 V598.1 H665.5 V592.1 H664.5 V583.6 H663.5 V585.7 H662.5 V589.9 H661.5 V594.6 H660.5 V594.5 H659.5 V590.5 H658.5 V582.8 H657.5 V599.8 H656.5 V606.7 H655.5 V606.8 H654.5 V599.0 H653.5 V587.8 H652.5 V564.3 H651.5 V548.1 H650.5 V556.2 H649.5 V577.8 H648.5 V594.4 H647.5 V594.0 H646.5 V588.6 H645.5 V574.0 H644.5 V560.2 H643.5 V547.3 H642.5 V539.7 H641.5 V566.3 H640.5 V577.9 H639.5 V592.0 H638.5 V595.6 H637.5 V596.4 H636.5 V517.6 H635.5 V529.6 H634.5 V535.9 H633.5 V535.6 H632.5 V527.4 H631.5 V509.8 H630.5 V491.5 H629.5 V467.7 H628.5 V468.4 H627.5 V441.8 H626.5 V437.2 H625.5 V448.5 H624.5 V452.5 H623.5 V455.7 H622.5 V480.6 H621.5 V504.3 H620.5 V503.6 H619.5 V499.0 H618.5 V515.5 H617.5 V516.0 H616.5 V510.8 H615.5 V494.5 H614.5 V475.7 H613.5 V475.8 H612.5 V442.1 H611.5 V419.5 H610.5 V430.1 H609.5 V430.4 H608.5 V430.2 H607.5 V428.7 H606.5 V434.5 H605.5 V439.2 H604.5 V442.1 H603.5 V442.3 H602.5 V442.6 H601.5 V438.9 H600.5 V434.0 H599.5 V421.9 H598.5 V421.5 H597.5 V421.9 H596.5 V421.4 H595.5 V398.3 H594.5 V401.0 H593.5 V412.8 H592.5 V422.8 H591.5 V430.4 H590.5 V430.6 H589.5 V425.0 H588.5 V421.8 H587.5 V427.3 H586.5 V427.3 H585.5 V420.2 H584.5 V422.6 H583.5 V430.5 H582.5 V430.0 H581.5 V430.6 H580.5 V427.5 H579.5 V421.5 H578.5 V417.0 H577.5 V416.7 H576.5 V416.6 H575.5 V389.7 H574.5 V390.1 H573.5 V372.4 H572.5 V374.1 H571.5 V382.1 H570.5 V389.0 H569.5 V388.3 H568.5 V381.8 H567.5 V381.4 H566.5 V381.5 H565.5 V375.8 H564.5 V360.9 H563.5 V355.1 H562.5 V362.7 H561.5 V384.9 H560.5 V397.9 H559.5 V397.8 H558.5 V395.6 H557.5 V400.5 H556.5 V405.5 H555.5 V405.5 H554.5 V399.3 H553.5 V379.9 H552.5 V375.3 H551.5 V376.1 H550.5 V377.8 H549.5 V381.6 H548.5 V389.1 H547.5 V395.8 H546.5 V399.7 H545.5 V399.0 H544.5 V394.5 H543.5 V386.2 H542.5 V378.8 H541.5 V374.5 H540.5 V374.4 H539.5 V381.0 H538.5 V389.9 H537.5 V402.8 H536.5 V421.9 H535.5 V422.2 H534.5 V421.6 H533.5 V416.2 H532.5 V411.7 H531.5 V414.0 H530.5 V421.8 H529.5 V421.7 H528.5 V422.2 H527.5 V406.4 H526.5 V400.8 H525.5 V390.9 H524.5 V380.0 H523.5 V374.5 H522.5 V378.5 H521.5 V385.7 H520.5 V390.7 H519.5 V396.4 H518.5 V398.5 H517.5 V397.9 H516.5 V394.5 H515.5 V394.5 H514.5 V397.8 H513.5 V397.8 H512.5 V396.1 H511.5 V392.0 H510.5 V401.8 H509.5 V405.1 H508.5 V405.4 H507.5 V381.3 H506.5 V381.6 H505.5 V377.3 H504.5 V370.4 H503.5 V375.3 H502.5 V375.8 H501.5 V375.8 H500.5 V370.4 H499.5 V374.8 H498.5 V385.4 H497.5 V395.0 H496.5 V394.8 H495.5 V394.7 H494.5 V398.1 H493.5 V414.8 H492.5 V414.5 H491.5 V409.1 H490.5 V394.3 H489.5 V380.0 H488.5 V370.4 H487.5 V371.8 H486.5 V382.1 H485.5 V400.0 H484.5 V399.3 H483.5 V399.9 H482.5 V388.7 H481.5 V397.3 H480.5 V407.6 H479.5 V417.3 H478.5 V423.2 H477.5 V430.5 H476.5 V439.7 H475.5 V450.3 H474.5 V465.2 H473.5 V479.0 H472.5 V478.7 H471.5 V479.1 H470.5 V470.0 H469.5 V461.9 H468.5 V456.4 H467.5 V449.6 H466.5 V439.6 H465.5 V440.6 H464.5 V440.9 H463.5 V441.2 H462.5 V431.9 H461.5 V422.8 H460.5 V415.7 H459.5 V421.7 H458.5 V421.4 H457.5 V421.7 H456.5 V413.4 H455.5 V405.5 H454.5 V400.7 H453.5 V408.9 H452.5 V417.1 H451.5 V422.2 H450.5 V428.9 H449.5 V433.6 H448.5 V433.9 H447.5 V429.7 H446.5 V420.3 H445.5 V411.5 H444.5 V412.7 H443.5 V423.4 H442.5 V435.5 H441.5 V439.3 H440.5 V439.8 H439.5 V434.3 H438.5 V427.5 H437.5 V422.5 H436.5 V419.1 H435.5 V415.5 H434.5 V415.1 H433.5 V415.9 H432.5 V415.4 H431.5 V409.4 H430.5 V398.9 H429.5 V389.8 H428.5 V379.1 H427.5 V368.4 H426.5 V369.7 H425.5 V369.7 H424.5 V380.6 H423.5 V404.8 H422.5 V405.2 H421.5 V404.6 H420.5 V398.0 H419.5 V391.5 H418.5 V390.9 H417.5 V404.9 H416.5 V424.0 H415.5 V435.4 H414.5 V435.0 H413.5 V430.0 H412.5 V420.6 H411.5 V426.7 H410.5 V437.7 H409.5 V438.1 H408.5 V421.3 H407.5 V406.8 H406.5 V406.3 H405.5 V397.8 H404.5 V371.9 H403.5 V360.2 H402.5 V348.4 H401.5 V333.0 H400.5 V329.9 H399.5 V337.9 H398.5 V351.1 H397.5 V362.3 H396.5 V365.7 H395.5 V366.1 H394.5 V355.0 H393.5 V348.9 H392.5 V357.1 H391.5 V357.4 H390.5 V353.8 H389.5 V349.5 H388.5 V355.5 H387.5 V355.4 H386.5 V353.0 H385.5 V366.5 H384.5 V382.1 H383.5 V382.1 H382.5 V382.5 H381.5 V368.2 H380.5 V372.7 H379.5 V381.1 H378.5 V397.9 H377.5 V400.8 H376.5 V405.1 H375.5 V406.9 H374.5 V406.9 H373.5 V404.0 H372.5 V403.9 H371.5 V405.8 H370.5 V405.0 H369.5 V405.0 H368.5 V402.0 H367.5 V405.6 H366.5 V412.0 H365.5 V418.3 H364.5 V420.4 H363.5 V420.1 H362.5 V413.6 H361.5 V404.8 H360.5 V401.5 H359.5 V404.5 H358.5 V408.5 H357.5 V414.3 H356.5 V418.8 H355.5 V420.5 H354.5 V420.9 H353.5 V415.3 H352.5 V409.1 H351.5 V406.9 H350.5 V408.7 H349.5 V408.0 H348.5 V405.4 H347.5 V403.4 H346.5 V409.9 H345.5 V410.1 H344.5 V409.8 H343.5 V405.8 H342.5 V400.8 H341.5 V396.4 H340.5 V387.0 H339.5 V388.6 H338.5 V393.4 H337.5 V393.8 H336.5 V388.0 H335.5 V385.3 H334.5 V387.8 H333.5 V389.8 H332.5 V399.8 H331.5 V422.0 H330.5 V421.9 H329.5 V422.4 H328.5 V428.3 H327.5 V427.5 H326.5 V427.7 H325.5 V409.7 H324.5 V405.5 H323.5 V405.8 H322.5 V399.5 H321.5 V415.9 H320.5 V428.4 H319.5 V429.8 H318.5 V430.0 H317.5 V429.1 H316.5 V353.2 H315.5 V360.2 H314.5 V360.1 H313.5 V357.3 H312.5 V347.2 H311.5 V348.3 H310.5 V363.7 H309.5 V375.8 H308.5 V388.6 H307.5 V393.9 H306.5 V393.2 H305.5 V383.2 H304.5 V358.2 H303.5 V324.3 H302.5 V327.3 H301.5 V371.2 H300.5 V370.6 H299.5 V373.6 H298.5 V393.9 H297.5 V393.3 H296.5 V400.0 H295.5 V411.2 H294.5 V411.6 H293.5 V404.2 H292.5 V413.1 H291.5 V412.7 H290.5 V412.9 H289.5 V408.2 H288.5 V403.2 H287.5 V390.5 H286.5 V377.6 H285.5 V440.1 H284.5 V439.8 H283.5 V439.0 H282.5 V459.0 H281.5 V459.1 H280.5 V459.0 H279.5 V456.9 H278.5 V455.9 H277.5 V441.9 H276.5 V455.8 H275.5 V466.4 H274.5 V465.9 H273.5 V459.2 H272.5 V449.5 H271.5 V438.5 H270.5 V443.5 H269.5 V443.0 H268.5 V436.4 H267.5 V414.9 H266.5 V409.7 H265.5 V417.8 H264.5 V432.7 H263.5 V440.4 H262.5 V440.6 H261.5 V436.2 H260.5 V428.7 H259.5 V423.3 H258.5 V427.6 H257.5 V436.0 H256.5 V436.2 H255.5 V428.3 H254.5 V417.3 H253.5 V428.8 H252.5 V445.5 H251.5 V455.1 H250.5 V455.0 H249.5 V452.9 H248.5 V447.9 H247.5 V442.7 H246.5 V438.3 H245.5 V434.0 H244.5 V429.6 H243.5 V425.9 H242.5 V425.4 H241.5 V429.3 H240.5 V432.1 H239.5 V434.5 H238.5 V434.8 H237.5 V433.8 H236.5 V441.8 H235.5 V449.5 H234.5 V449.7 H233.5 V449.1 H232.5 V434.9 H231.5 V420.1 H230.5 V414.4 H229.5 V417.8 H228.5 V417.7 H227.5 V418.0 H226.5 V409.6 H225.5 V401.5 H224.5 V405.8 H223.5 V430.2 H222.5 V429.9 H221.5 V429.5 H220.5 V407.2 H219.5 V394.3 H218.5 V390.6 H217.5 V397.3 H216.5 V397.1 H215.5 V396.5 H214.5 V389.3 H213.5 V382.4 H212.5 V376.3 H211.5 V376.5 H210.5 V381.6 H209.5 V386.0 H208.5 V390.8 H207.5 V395.7 H206.5 V400.2 H205.5 V404.5 H204.5 V404.3 H203.5 V404.4 H202.5 V398.2 H201.5 V409.7 H200.5 V416.7 H199.5 V416.9 H198.5 V402.7 H197.5 V377.2 H196.5 V376.1 H195.5 V385.0 H194.5 V392.9 H193.5 V392.5 H192.5 V384.2 H191.5 V383.6 H190.5 V383.8 H189.5 V360.2 H188.5 V347.2 H187.5 V353.4 H186.5 V369.9 H185.5 V387.6 H184.5 V402.1 H183.5 V411.6 H182.5 V422.8 H181.5 V432.8 H180.5 V432.9 H179.5 V431.4 H178.5 V420.1 H177.5 V409.7 H176.5 V399.7 H175.5 V411.0 H174.5 V423.0 H173.5 V430.7 H172.5 V439.6 H171.5 V447.0 H170.5 V451.2 H169.5 V455.1 H168.5 V459.8 H167.5 V464.7 H166.5 V475.5 H165.5 V486.6 H164.5 V497.4 H163.5 V517.8 H162.5 V543.1 H161.5 V565.3 H160.5 V579.3 H159.5 V579.9 H158.5 V570.3 H157.5 V556.5 H156.5 V540.0 H155.5 V524.8 H154.5 V521.0 H153.5 V542.0 H152.5 V554.1 H151.5 V554.6 H150.5 V540.6 H149.5 V514.7 H148.5 V505.7 H147.5 V503.4 H146.5 V499.8 H145.5 V497.3 H144.5 V491.3 H143.5 V482.8 H142.5 V473.4 H141.5 V464.5 H140.5 V452.3 H139.5 V459.5 H138.5 V472.4 H137.5 V478.0 H136.5 V477.6 H135.5 V470.9 H134.5 V463.0 H133.5 V473.9 H132.5 V486.3 H131.5 V486.4 H130.5 V481.9 H129.5 V469.2 H128.5 V454.6 H127.5 V442.4 H126.5 V434.9 H125.5 V427.7 H124.5 V418.8 H123.5 V422.3 H122.5 V438.9 H121.5 V441.1 H120.5 V440.9 H119.5 V430.6 H118.5 V425.7 H117.5 V434.8 H116.5 V434.4 H115.5 V426.9 H114.5 V419.5 H113.5 V421.2 H112.5 V421.7 H111.5 V392.7 H110.5 V374.9 H109.5 V387.1 H108.5 V403.9 H107.5 V420.5 H106.5 V434.5 H105.5 V434.2 H104.5 V432.2 H103.5 V426.7 H102.5 V422.7 H101.5 V428.0 H100.5 V432.8 H99.5 V464.9 H98.5 V477.3 H97.5 V477.8 H96.5 V467.2 H95.5 V481.1 H94.5 V495.5 H93.5 V495.6 H92.5 Z" fill="#6d9fd6" stroke="#6d9fd6" stroke-width="3.2" stroke-linejoin="miter"/>
<path d="M0,0" fill="none" stroke="#6d9fd6" stroke-width="3" stroke-linejoin="miter" stroke-miterlimit="2" stroke-linecap="butt"/>
<text transform="translate(1463.50,166.60) scale(1,1.050)" font-size="30" text-anchor="start" fill="#000" letter-spacing="1.1">1,000</text><text transform="translate(1463.50,483.00) scale(1,1.050)" font-size="30" text-anchor="start" fill="#000" letter-spacing="1.1">100</text><text transform="translate(1463.50,797.70) scale(1,1.050)" font-size="30" text-anchor="start" fill="#000" letter-spacing="1.1">10</text>
<text x="94.4" y="1080.7" font-size="31.5" fill="#000">1980</text><text x="388.0" y="1080.7" font-size="31.5" fill="#000">1990</text><text x="683.8" y="1080.7" font-size="31.5" fill="#000">2000</text><text x="978.2" y="1080.7" font-size="31.5" fill="#000">2010</text><text x="1274.6" y="1080.7" font-size="31.5" fill="#000">2020</text>
<rect x="93" y="1098" width="1361" height="79" fill="#e8e8e8"/>
<path d="M93,1177.0 V1158.3 H94 V1157.8 H95 V1156.7 H96 V1156.2 H97 V1158.4 H98 V1157.1 H99 V1153.2 H100 V1152.2 H101 V1151.2 H102 V1150.2 H103 V1151.2 H104 V1152.1 H105 V1153.2 H106 V1152.2 H107 V1146.5 H108 V1144.6 H109 V1139.5 H110 V1140.0 H111 V1140.6 H112 V1145.6 H113 V1150.8 H114 V1148.0 H115 V1145.0 H116 V1152.7 H117 V1151.8 H118 V1149.5 H119 V1149.9 H120 V1153.6 H121 V1154.3 H122 V1151.3 H123 V1147.5 H124 V1147.7 H125 V1151.3 H126 V1152.2 H127 V1153.5 H128 V1154.7 H129 V1155.7 H130 V1158.6 H131 V1160.5 H132 V1160.1 H133 V1156.7 H134 V1156.4 H135 V1157.8 H136 V1159.3 H137 V1159.5 H138 V1157.4 H139 V1154.7 H140 V1154.3 H141 V1156.4 H142 V1158.2 H143 V1158.8 H144 V1160.4 H145 V1161.6 H146 V1161.9 H147 V1162.3 H148 V1162.6 H149 V1163.1 H150 V1163.5 H151 V1166.6 H152 V1166.7 H153 V1164.4 H154 V1162.1 H155 V1162.7 H156 V1165.0 H157 V1165.6 H158 V1167.3 H159 V1168.5 H160 V1168.4 H161 V1166.3 H162 V1163.4 H163 V1162.3 H164 V1160.9 H165 V1159.5 H166 V1158.0 H167 V1157.3 H168 V1156.7 H169 V1156.0 H170 V1155.2 H171 V1154.6 H172 V1152.7 H173 V1150.7 H174 V1149.6 H175 V1144.6 H176 V1143.7 H177 V1146.5 H178 V1148.7 H179 V1150.8 H180 V1152.9 H181 V1152.1 H182 V1149.3 H183 V1146.8 H184 V1145.0 H185 V1139.2 H186 V1132.6 H187 V1130.9 H188 V1130.6 H189 V1131.4 H190 V1137.8 H191 V1141.5 H192 V1139.1 H193 V1143.9 H194 V1144.0 H195 V1139.9 H196 V1140.3 H197 V1140.7 H198 V1141.1 H199 V1148.6 H200 V1149.4 H201 V1145.1 H202 V1144.3 H203 V1146.0 H204 V1147.5 H205 V1146.5 H206 V1145.6 H207 V1144.1 H208 V1143.6 H209 V1142.2 H210 V1140.4 H211 V1139.9 H212 V1140.3 H213 V1140.7 H214 V1142.5 H215 V1144.2 H216 V1145.8 H217 V1144.5 H218 V1142.8 H219 V1143.2 H220 V1145.8 H221 V1147.3 H222 V1152.5 H223 V1146.8 H224 V1145.6 H225 V1146.4 H226 V1146.7 H227 V1148.7 H228 V1150.3 H229 V1149.0 H230 V1148.9 H231 V1149.8 H232 V1150.3 H233 V1153.4 H234 V1155.8 H235 V1154.5 H236 V1153.0 H237 V1152.9 H238 V1153.2 H239 V1153.1 H240 V1152.3 H241 V1151.7 H242 V1150.9 H243 V1151.0 H244 V1151.8 H245 V1152.2 H246 V1153.2 H247 V1154.1 H248 V1154.5 H249 V1155.5 H250 V1156.5 H251 V1156.0 H252 V1152.2 H253 V1150.2 H254 V1147.8 H255 V1148.6 H256 V1152.9 H257 V1152.9 H258 V1149.4 H259 V1150.4 H260 V1151.3 H261 V1152.2 H262 V1154.0 H263 V1153.7 H264 V1149.3 H265 V1148.2 H266 V1148.4 H267 V1148.7 H268 V1149.3 H269 V1154.4 H270 V1153.3 H271 V1151.9 H272 V1154.1 H273 V1155.8 H274 V1157.8 H275 V1157.5 H276 V1152.9 H277 V1152.0 H278 V1154.6 H279 V1156.7 H280 V1156.9 H281 V1157.2 H282 V1153.9 H283 V1150.8 H284 V1153.9 H285 V1144.3 H286 V1140.2 H287 V1141.2 H288 V1144.3 H289 V1147.2 H290 V1148.3 H291 V1149.3 H292 V1145.2 H293 V1144.9 H294 V1147.5 H295 V1145.8 H296 V1142.9 H297 V1145.0 H298 V1139.0 H299 V1137.9 H300 V1135.0 H301 V1126.0 H302 V1121.4 H303 V1120.7 H304 V1124.4 H305 V1138.2 H306 V1143.8 H307 V1144.6 H308 V1140.9 H309 V1137.2 H310 V1130.8 H311 V1129.0 H312 V1131.1 H313 V1132.1 H314 V1136.0 H315 V1132.5 H316 V1132.4 H317 V1134.3 H318 V1146.5 H319 V1152.2 H320 V1151.1 H321 V1143.7 H322 V1142.3 H323 V1147.3 H324 V1145.7 H325 V1144.2 H326 V1148.7 H327 V1152.2 H328 V1148.5 H329 V1148.3 H330 V1151.0 H331 V1145.5 H332 V1144.2 H333 V1143.6 H334 V1143.0 H335 V1142.6 H336 V1141.0 H337 V1144.4 H338 V1144.6 H339 V1141.3 H340 V1140.9 H341 V1143.5 H342 V1145.7 H343 V1146.7 H344 V1147.7 H345 V1148.7 H346 V1147.3 H347 V1145.6 H348 V1145.9 H349 V1148.0 H350 V1148.2 H351 V1147.3 H352 V1147.2 H353 V1148.7 H354 V1150.3 H355 V1150.6 H356 V1149.5 H357 V1148.1 H358 V1147.6 H359 V1146.8 H360 V1145.7 H361 V1145.6 H362 V1147.7 H363 V1150.1 H364 V1150.6 H365 V1149.2 H366 V1147.8 H367 V1146.1 H368 V1145.9 H369 V1146.9 H370 V1147.7 H371 V1147.3 H372 V1146.7 H373 V1146.8 H374 V1147.7 H375 V1147.8 H376 V1146.9 H377 V1144.9 H378 V1142.5 H379 V1139.5 H380 V1138.9 H381 V1137.3 H382 V1138.0 H383 V1142.4 H384 V1138.1 H385 V1132.6 H386 V1132.5 H387 V1134.5 H388 V1133.9 H389 V1128.9 H390 V1131.9 H391 V1135.0 H392 V1134.1 H393 V1128.7 H394 V1129.1 H395 V1136.4 H396 V1137.5 H397 V1133.4 H398 V1127.8 H399 V1126.2 H400 V1126.2 H401 V1126.2 H402 V1127.0 H403 V1133.7 H404 V1136.2 H405 V1138.9 H406 V1147.2 H407 V1147.5 H408 V1145.9 H409 V1150.2 H410 V1152.1 H411 V1148.7 H412 V1148.4 H413 V1150.8 H414 V1153.0 H415 V1152.5 H416 V1146.2 H417 V1144.6 H418 V1144.4 H419 V1144.3 H420 V1144.4 H421 V1146.1 H422 V1147.6 H423 V1140.7 H424 V1139.2 H425 V1138.9 H426 V1138.7 H427 V1138.6 H428 V1138.4 H429 V1142.4 H430 V1143.7 H431 V1146.3 H432 V1149.2 H433 V1149.8 H434 V1149.6 H435 V1149.5 H436 V1149.7 H437 V1150.5 H438 V1151.3 H439 V1151.8 H440 V1153.7 H441 V1153.9 H442 V1151.5 H443 V1149.2 H444 V1149.1 H445 V1149.0 H446 V1148.9 H447 V1150.8 H448 V1152.9 H449 V1152.7 H450 V1151.2 H451 V1149.9 H452 V1149.1 H453 V1146.1 H454 V1145.8 H455 V1147.0 H456 V1147.5 H457 V1149.4 H458 V1150.9 H459 V1149.8 H460 V1148.4 H461 V1148.9 H462 V1151.3 H463 V1152.9 H464 V1154.4 H465 V1153.4 H466 V1152.4 H467 V1154.3 H468 V1156.2 H469 V1156.8 H470 V1157.4 H471 V1158.8 H472 V1159.9 H473 V1158.0 H474 V1155.7 H475 V1154.2 H476 V1152.8 H477 V1151.4 H478 V1150.2 H479 V1148.1 H480 V1145.7 H481 V1144.7 H482 V1141.5 H483 V1141.9 H484 V1146.4 H485 V1141.6 H486 V1140.1 H487 V1136.7 H488 V1136.2 H489 V1139.3 H490 V1141.7 H491 V1145.5 H492 V1149.2 H493 V1145.9 H494 V1142.3 H495 V1144.0 H496 V1145.4 H497 V1143.0 H498 V1140.1 H499 V1138.5 H500 V1137.4 H501 V1139.1 H502 V1140.6 H503 V1139.3 H504 V1137.8 H505 V1138.4 H506 V1141.6 H507 V1141.4 H508 V1141.0 H509 V1147.5 H510 V1144.9 H511 V1142.5 H512 V1144.1 H513 V1145.9 H514 V1145.7 H515 V1143.9 H516 V1143.9 H517 V1145.7 H518 V1145.9 H519 V1144.5 H520 V1143.2 H521 V1141.4 H522 V1139.2 H523 V1139.2 H524 V1140.4 H525 V1141.3 H526 V1145.5 H527 V1146.6 H528 V1148.2 H529 V1150.1 H530 V1149.5 H531 V1147.6 H532 V1147.8 H533 V1149.3 H534 V1149.8 H535 V1151.0 H536 V1146.4 H537 V1144.9 H538 V1141.4 H539 V1140.5 H540 V1139.9 H541 V1139.3 H542 V1140.4 H543 V1141.6 H544 V1142.6 H545 V1145.9 H546 V1146.0 H547 V1144.0 H548 V1141.8 H549 V1141.3 H550 V1140.8 H551 V1140.3 H552 V1140.2 H553 V1140.5 H554 V1141.2 H555 V1147.2 H556 V1147.2 H557 V1144.7 H558 V1144.5 H559 V1145.8 H560 V1144.6 H561 V1137.1 H562 V1134.1 H563 V1133.6 H564 V1135.0 H565 V1135.9 H566 V1141.5 H567 V1141.5 H568 V1139.8 H569 V1141.8 H570 V1142.4 H571 V1140.3 H572 V1137.8 H573 V1137.6 H574 V1140.8 H575 V1143.9 H576 V1145.4 H577 V1150.0 H578 V1149.7 H579 V1149.5 H580 V1151.4 H581 V1151.9 H582 V1152.6 H583 V1151.2 H584 V1149.8 H585 V1148.2 H586 V1151.5 H587 V1151.6 H588 V1148.7 H589 V1148.4 H590 V1152.2 H591 V1151.9 H592 V1148.8 H593 V1146.5 H594 V1144.7 H595 V1145.5 H596 V1146.2 H597 V1149.4 H598 V1149.9 H599 V1148.7 H600 V1150.9 H601 V1153.2 H602 V1154.0 H603 V1154.6 H604 V1154.0 H605 V1153.6 H606 V1151.9 H607 V1151.6 H608 V1152.1 H609 V1152.6 H610 V1150.5 H611 V1147.9 H612 V1148.9 H613 V1155.7 H614 V1159.3 H615 V1159.8 H616 V1161.5 H617 V1163.7 H618 V1162.1 H619 V1160.4 H620 V1162.5 H621 V1159.9 H622 V1156.9 H623 V1156.2 H624 V1155.6 H625 V1153.3 H626 V1152.9 H627 V1153.0 H628 V1155.5 H629 V1158.1 H630 V1158.6 H631 V1161.2 H632 V1163.4 H633 V1165.1 H634 V1165.4 H635 V1163.4 H636 V1163.2 H637 V1166.9 H638 V1166.9 H639 V1168.8 H640 V1167.9 H641 V1166.0 H642 V1163.7 H643 V1165.8 H644 V1166.5 H645 V1167.6 H646 V1168.5 H647 V1169.3 H648 V1168.8 H649 V1167.0 H650 V1166.7 H651 V1166.5 H652 V1166.2 H653 V1168.6 H654 V1169.3 H655 V1170.1 H656 V1170.1 H657 V1168.4 H658 V1168.2 H659 V1168.9 H660 V1169.5 H661 V1169.5 H662 V1169.1 H663 V1168.8 H664 V1168.5 H665 V1169.0 H666 V1169.6 H667 V1169.7 H668 V1169.1 H669 V1168.5 H670 V1167.7 H671 V1167.8 H672 V1168.8 H673 V1169.4 H674 V1169.6 H675 V1169.8 H676 V1170.5 H677 V1171.4 H678 V1171.0 H679 V1170.6 H680 V1170.4 H681 V1170.0 H682 V1169.6 H683 V1170.1 H684 V1171.7 H685 V1171.3 H686 V1170.9 H687 V1170.4 H688 V1171.2 H689 V1172.6 H690 V1172.3 H691 V1172.0 H692 V1172.9 H693 V1174.0 H694 V1174.5 H695 V1174.4 H696 V1173.8 H697 V1173.6 H698 V1173.6 H699 V1173.7 H700 V1174.4 H701 V1175.1 H702 V1174.8 H703 V1174.6 H704 V1175.1 H705 V1175.0 H706 V1174.0 H707 V1175.1 H708 V1175.4 H709 V1175.1 H710 V1174.5 H711 V1174.4 H712 V1174.2 H713 V1174.3 H714 V1175.2 H715 V1175.2 H716 V1175.0 H717 V1174.9 H718 V1173.5 H719 V1173.8 H720 V1174.2 H721 V1174.4 H722 V1174.9 H723 V1175.0 H724 V1175.4 H725 V1175.4 H726 V1175.6 H727 V1175.7 H728 V1175.6 H729 V1175.5 H730 V1175.3 H731 V1175.5 H732 V1175.6 H733 V1175.7 H734 V1175.8 H735 V1175.8 H736 V1175.7 H737 V1175.5 H738 V1175.4 H739 V1175.1 H740 V1174.8 H741 V1174.7 H742 V1174.6 H743 V1174.5 H744 V1174.5 H745 V1174.9 H746 V1175.2 H747 V1175.0 H748 V1173.4 H749 V1173.2 H750 V1173.0 H751 V1172.9 H752 V1172.8 H753 V1173.6 H754 V1174.5 H755 V1174.6 H756 V1174.1 H757 V1173.4 H758 V1173.4 H759 V1174.1 H760 V1174.6 H761 V1174.5 H762 V1173.7 H763 V1174.0 H764 V1174.2 H765 V1174.5 H766 V1174.0 H767 V1173.3 H768 V1173.5 H769 V1173.7 H770 V1173.9 H771 V1174.1 H772 V1174.8 H773 V1174.9 H774 V1174.7 H775 V1174.5 H776 V1174.3 H777 V1174.5 H778 V1174.7 H779 V1174.7 H780 V1174.4 H781 V1174.2 H782 V1174.0 H783 V1173.5 H784 V1172.7 H785 V1171.5 H786 V1171.2 H787 V1170.6 H788 V1170.5 H789 V1171.6 H790 V1171.7 H791 V1171.3 H792 V1171.0 H793 V1168.9 H794 V1167.1 H795 V1168.0 H796 V1168.0 H797 V1166.0 H798 V1163.6 H799 V1163.4 H800 V1163.8 H801 V1164.1 H802 V1164.3 H803 V1164.8 H804 V1165.3 H805 V1166.6 H806 V1167.9 H807 V1168.3 H808 V1169.4 H809 V1169.6 H810 V1169.9 H811 V1170.1 H812 V1170.5 H813 V1170.9 H814 V1171.4 H815 V1171.2 H816 V1169.1 H817 V1168.5 H818 V1168.3 H819 V1168.1 H820 V1167.9 H821 V1167.6 H822 V1167.9 H823 V1169.1 H824 V1170.0 H825 V1170.7 H826 V1170.5 H827 V1170.3 H828 V1170.0 H829 V1169.7 H830 V1169.4 H831 V1169.4 H832 V1171.2 H833 V1171.1 H834 V1170.6 H835 V1170.6 H836 V1171.3 H837 V1172.0 H838 V1171.8 H839 V1170.3 H840 V1170.8 H841 V1171.2 H842 V1171.0 H843 V1169.7 H844 V1169.7 H845 V1170.7 H846 V1170.8 H847 V1169.5 H848 V1169.5 H849 V1170.4 H850 V1170.3 H851 V1169.1 H852 V1168.8 H853 V1168.8 H854 V1168.8 H855 V1169.3 H856 V1169.8 H857 V1168.7 H858 V1167.4 H859 V1166.3 H860 V1166.0 H861 V1165.1 H862 V1164.8 H863 V1163.9 H864 V1163.9 H865 V1164.3 H866 V1165.9 H867 V1168.7 H868 V1169.9 H869 V1169.0 H870 V1167.9 H871 V1167.6 H872 V1167.3 H873 V1168.8 H874 V1168.8 H875 V1167.1 H876 V1166.8 H877 V1168.1 H878 V1169.1 H879 V1168.7 H880 V1168.2 H881 V1167.4 H882 V1167.2 H883 V1167.4 H884 V1167.5 H885 V1169.1 H886 V1169.3 H887 V1168.6 H888 V1168.4 H889 V1168.4 H890 V1168.9 H891 V1169.7 H892 V1169.6 H893 V1169.5 H894 V1169.4 H895 V1169.6 H896 V1170.7 H897 V1170.7 H898 V1170.6 H899 V1170.4 H900 V1169.6 H901 V1169.5 H902 V1169.6 H903 V1169.7 H904 V1171.1 H905 V1171.1 H906 V1170.3 H907 V1170.1 H908 V1169.7 H909 V1169.2 H910 V1169.2 H911 V1169.6 H912 V1169.6 H913 V1168.8 H914 V1168.0 H915 V1168.0 H916 V1168.0 H917 V1167.9 H918 V1167.9 H919 V1167.8 H920 V1167.7 H921 V1169.1 H922 V1169.6 H923 V1170.6 H924 V1171.5 H925 V1171.6 H926 V1171.1 H927 V1171.1 H928 V1171.9 H929 V1172.4 H930 V1172.8 H931 V1172.8 H932 V1172.0 H933 V1173.7 H934 V1173.8 H935 V1173.7 H936 V1173.6 H937 V1174.4 H938 V1175.0 H939 V1175.6 H940 V1176.4 H941 V1176.1 H942 V1175.9 H943 V1175.6 H944 V1175.2 H945 V1175.5 H946 V1175.7 H947 V1175.8 H948 V1175.5 H949 V1175.7 H950 V1175.7 H951 V1175.6 H952 V1174.9 H953 V1174.6 H954 V1174.3 H955 V1174.2 H956 V1175.1 H957 V1175.1 H958 V1175.1 H959 V1175.0 H960 V1174.1 H961 V1174.1 H962 V1174.1 H963 V1174.0 H964 V1173.2 H965 V1173.0 H966 V1172.7 H967 V1172.7 H968 V1172.7 H969 V1172.7 H970 V1172.8 H971 V1172.9 H972 V1173.8 H973 V1174.2 H974 V1174.5 H975 V1174.1 H976 V1174.1 H977 V1174.5 H978 V1174.0 H979 V1174.0 H980 V1174.4 H981 V1174.0 H982 V1174.0 H983 V1174.4 H984 V1173.8 H985 V1173.8 H986 V1174.4 H987 V1174.1 H988 V1174.1 H989 V1174.4 H990 V1174.1 H991 V1174.1 H992 V1174.4 H993 V1174.0 H994 V1173.5 H995 V1173.3 H996 V1173.3 H997 V1173.2 H998 V1173.2 H999 V1172.8 H1000 V1172.4 H1001 V1172.2 H1002 V1172.0 H1003 V1172.5 H1004 V1172.9 H1005 V1172.1 H1006 V1171.1 H1007 V1171.0 H1008 V1170.9 H1009 V1170.7 H1010 V1170.6 H1011 V1170.5 H1012 V1171.0 H1013 V1171.9 H1014 V1172.5 H1015 V1172.7 H1016 V1172.8 H1017 V1172.7 H1018 V1172.0 H1019 V1172.0 H1020 V1172.8 H1021 V1172.9 H1022 V1172.3 H1023 V1171.6 H1024 V1172.4 H1025 V1173.2 H1026 V1173.1 H1027 V1172.5 H1028 V1171.8 H1029 V1171.9 H1030 V1172.5 H1031 V1172.7 H1032 V1172.8 H1033 V1172.7 H1034 V1172.3 H1035 V1171.8 H1036 V1171.7 H1037 V1171.6 H1038 V1172.0 H1039 V1172.5 H1040 V1172.8 H1041 V1173.0 H1042 V1173.5 H1043 V1174.0 H1044 V1174.0 H1045 V1173.8 H1046 V1173.7 H1047 V1173.7 H1048 V1174.0 H1049 V1174.2 H1050 V1174.0 H1051 V1173.0 H1052 V1172.7 H1053 V1171.8 H1054 V1171.7 H1055 V1171.6 H1056 V1171.5 H1057 V1171.4 H1058 V1171.6 H1059 V1173.0 H1060 V1172.8 H1061 V1172.7 H1062 V1172.6 H1063 V1172.7 H1064 V1172.9 H1065 V1173.0 H1066 V1173.5 H1067 V1173.6 H1068 V1173.6 H1069 V1173.6 H1070 V1174.0 H1071 V1174.4 H1072 V1174.4 H1073 V1174.5 H1074 V1174.6 H1075 V1174.8 H1076 V1174.9 H1077 V1174.9 H1078 V1174.6 H1079 V1174.3 H1080 V1174.1 H1081 V1174.3 H1082 V1174.5 H1083 V1174.6 H1084 V1174.7 H1085 V1174.7 H1086 V1174.8 H1087 V1174.9 H1088 V1174.8 H1089 V1175.0 H1090 V1175.0 H1091 V1175.1 H1092 V1175.1 H1093 V1175.0 H1094 V1175.0 H1095 V1174.9 H1096 V1174.9 H1097 V1175.1 H1098 V1175.3 H1099 V1175.4 H1100 V1175.4 H1101 V1175.6 H1102 V1175.7 H1103 V1175.7 H1104 V1175.8 H1105 V1175.4 H1106 V1175.4 H1107 V1175.4 H1108 V1175.5 H1109 V1175.6 H1110 V1175.6 H1111 V1175.6 H1112 V1175.6 H1113 V1176.1 H1114 V1176.2 H1115 V1176.4 H1116 V1176.4 H1117 V1176.2 H1118 V1176.1 H1119 V1176.2 H1120 V1176.2 H1121 V1176.1 H1122 V1176.0 H1123 V1175.8 H1124 V1175.7 H1125 V1176.0 H1126 V1176.0 H1127 V1175.9 H1128 V1176.0 H1129 V1176.0 H1130 V1176.1 H1131 V1176.0 H1132 V1176.0 H1133 V1175.9 H1134 V1175.9 H1135 V1176.0 H1136 V1176.1 H1137 V1176.1 H1138 V1176.2 H1139 V1176.5 H1140 V1176.4 H1141 V1176.3 H1142 V1176.3 H1143 V1176.5 H1144 V1176.5 H1145 V1176.5 H1146 V1176.5 H1147 V1176.5 H1148 V1176.5 H1149 V1176.5 H1150 V1176.6 H1151 V1176.6 H1152 V1176.7 H1153 V1176.7 H1154 V1176.4 H1155 V1176.5 H1156 V1176.4 H1157 V1176.2 H1158 V1175.8 H1159 V1175.6 H1160 V1175.5 H1161 V1175.4 H1162 V1175.4 H1163 V1175.2 H1164 V1175.2 H1165 V1174.8 H1166 V1174.5 H1167 V1174.3 H1168 V1174.2 H1169 V1174.5 H1170 V1174.4 H1171 V1174.7 H1172 V1174.8 H1173 V1175.1 H1174 V1175.0 H1175 V1175.2 H1176 V1175.2 H1177 V1175.0 H1178 V1175.1 H1179 V1175.4 H1180 V1175.2 H1181 V1175.0 H1182 V1174.9 H1183 V1174.9 H1184 V1175.0 H1185 V1175.3 H1186 V1175.7 H1187 V1175.5 H1188 V1175.2 H1189 V1175.4 H1190 V1175.5 H1191 V1175.4 H1192 V1175.3 H1193 V1175.2 H1194 V1175.3 H1195 V1175.4 H1196 V1175.5 H1197 V1175.6 H1198 V1175.6 H1199 V1175.5 H1200 V1175.4 H1201 V1175.3 H1202 V1175.3 H1203 V1175.3 H1204 V1175.4 H1205 V1175.5 H1206 V1175.7 H1207 V1175.7 H1208 V1175.8 H1209 V1175.8 H1210 V1175.5 H1211 V1175.6 H1212 V1175.7 H1213 V1175.7 H1214 V1175.6 H1215 V1175.5 H1216 V1175.6 H1217 V1175.7 H1218 V1175.5 H1219 V1175.4 H1220 V1175.5 H1221 V1175.6 H1222 V1175.6 H1223 V1175.6 H1224 V1175.5 H1225 V1175.5 H1226 V1175.5 H1227 V1175.7 H1228 V1175.9 H1229 V1175.9 H1230 V1175.9 H1231 V1176.0 H1232 V1176.0 H1233 V1176.0 H1234 V1176.2 H1235 V1176.3 H1236 V1176.2 H1237 V1176.1 H1238 V1176.3 H1239 V1176.3 H1240 V1176.1 H1241 V1176.1 H1242 V1176.0 H1243 V1176.0 H1244 V1176.0 H1245 V1176.2 H1246 V1176.2 H1247 V1176.2 H1248 V1176.4 H1249 V1176.4 H1250 V1176.5 H1251 V1176.5 H1252 V1176.4 H1253 V1176.2 H1254 V1176.2 H1255 V1176.1 H1256 V1176.1 H1257 V1176.0 H1258 V1176.0 H1259 V1176.0 H1260 V1176.0 H1261 V1176.0 H1262 V1176.2 H1263 V1176.2 H1264 V1175.9 H1265 V1175.8 H1266 V1175.7 H1267 V1175.7 H1268 V1175.6 H1269 V1175.7 H1270 V1176.0 H1271 V1176.0 H1272 V1175.9 H1273 V1176.1 H1274 V1176.3 H1275 V1176.5 H1276 V1176.5 H1277 V1176.4 H1278 V1176.4 H1279 V1176.2 H1280 V1176.0 H1281 V1175.9 H1282 V1176.2 H1283 V1176.2 H1284 V1176.0 H1285 V1175.7 H1286 V1175.5 H1287 V1175.4 H1288 V1175.5 H1289 V1175.7 H1290 V1175.8 H1291 V1175.7 H1292 V1175.5 H1293 V1175.6 H1294 V1175.8 H1295 V1175.5 H1296 V1175.2 H1297 V1175.0 H1298 V1175.0 H1299 V1175.0 H1300 V1175.0 H1301 V1175.3 H1302 V1175.3 H1303 V1175.4 H1304 V1175.2 H1305 V1175.2 H1306 V1175.5 H1307 V1175.5 H1308 V1175.4 H1309 V1175.3 H1310 V1175.2 H1311 V1175.0 H1312 V1175.1 H1313 V1175.3 H1314 V1175.5 H1315 V1175.7 H1316 V1175.8 H1317 V1175.8 H1318 V1175.9 H1319 V1175.9 H1320 V1175.8 H1321 V1175.8 H1322 V1175.7 H1323 V1175.8 H1324 V1175.8 H1325 V1175.9 H1326 V1176.1 H1327 V1176.1 H1328 V1176.1 H1329 V1176.0 H1330 V1176.1 H1331 V1176.2 H1332 V1176.2 H1333 V1176.2 H1334 V1176.2 H1335 V1176.1 H1336 V1176.1 H1337 V1176.1 H1338 V1176.2 H1339 V1176.2 H1340 V1176.3 H1341 V1176.4 H1342 V1176.5 H1343 V1176.5 H1344 V1176.5 H1345 V1176.4 H1346 V1176.4 H1347 V1176.5 H1348 V1176.5 H1349 V1176.5 H1350 V1176.3 H1351 V1176.3 H1352 V1176.3 H1353 V1176.2 H1354 V1176.3 H1355 V1176.4 H1356 V1176.4 H1357 V1176.4 H1358 V1176.3 H1359 V1176.3 H1360 V1176.3 H1361 V1176.3 H1362 V1176.4 H1363 V1176.5 H1364 V1176.4 H1365 V1176.2 H1366 V1176.2 H1367 V1176.3 H1368 V1176.4 H1369 V1176.4 H1370 V1176.5 H1371 V1176.5 H1372 V1176.5 H1373 V1176.4 H1374 V1176.4 H1375 V1176.5 H1376 V1176.5 H1377 V1176.6 H1378 V1176.6 H1379 V1176.6 H1380 V1176.5 H1381 V1176.6 H1382 V1176.6 H1383 V1176.5 H1384 V1176.5 H1385 V1176.4 H1386 V1176.4 H1387 V1176.5 H1388 V1176.5 H1389 V1176.5 H1390 V1176.4 H1391 V1176.5 H1392 V1176.5 H1393 V1176.2 H1394 V1176.1 H1395 V1176.2 H1396 V1176.2 H1397 V1176.0 H1398 V1176.0 H1399 V1176.0 H1400 V1176.1 H1401 V1175.9 H1402 V1175.8 H1403 V1176.0 H1404 V1176.1 H1405 V1176.0 H1406 V1175.9 H1407 V1175.7 H1408 V1175.9 H1409 V1176.0 H1410 V1175.9 H1411 V1175.7 H1412 V1175.7 H1413 V1175.8 H1414 V1175.9 H1415 V1176.0 H1416 V1175.9 H1417 V1175.9 H1418 V1175.8 H1419 V1175.8 H1420 V1175.7 H1421 V1176.0 H1422 V1176.1 H1423 V1176.1 H1424 V1176.1 H1425 V1175.7 H1426 V1175.6 H1427 V1175.3 H1428 V1175.3 H1429 V1175.3 H1430 V1175.3 H1431 V1175.3 H1432 V1175.4 H1433 V1175.2 H1434 V1175.2 H1435 V1174.5 H1436 V1174.1 H1437 V1173.8 H1438 V1173.3 H1439 V1173.2 H1440 V1172.9 H1441 V1173.2 H1442 V1174.4 H1443 V1174.4 H1444 V1173.9 H1445 V1173.7 H1446 V1173.1 H1447 V1172.9 H1448 V1172.6 H1449 V1172.2 H1450 V1172.1 H1451 V1172.1 H1452 V1172.1 H1453 L1452,1177.0 Z" fill="#8a8a8a"/>
<line x1="381.75" y1="1098" x2="381.75" y2="1177" stroke="#ffffff" stroke-opacity="0.18" stroke-width="2"/><line x1="678.20" y1="1098" x2="678.20" y2="1177" stroke="#ffffff" stroke-opacity="0.18" stroke-width="2"/><line x1="972.80" y1="1098" x2="972.80" y2="1177" stroke="#ffffff" stroke-opacity="0.18" stroke-width="2"/><line x1="1269.10" y1="1098" x2="1269.10" y2="1177" stroke="#ffffff" stroke-opacity="0.18" stroke-width="2"/>
<text x="94.4" y="1165.4" font-size="31.5" fill="#fff">1980</text><text x="388.0" y="1165.4" font-size="31.5" fill="#fff">1990</text><text x="683.8" y="1165.4" font-size="31.5" fill="#fff">2000</text><text x="978.2" y="1165.4" font-size="31.5" fill="#fff">2010</text><text x="1274.6" y="1165.4" font-size="31.5" fill="#fff">2020</text>
<line x1="93" y1="1098.3" x2="1454" y2="1098.3" stroke="#cccccc" stroke-width="1.5"/>
<line x1="1454" y1="1098" x2="1454" y2="1177" stroke="#bbbbbb" stroke-width="1.5"/>
<circle cx="94.6" cy="1140.5" r="31" fill="#000" opacity="0.10" filter="url(#blur)"/><circle cx="93.1" cy="1138.0" r="31" fill="#fff" stroke="#e0e0e0" stroke-width="1"/><rect x="90.2" y="1127" width="1.8" height="22" fill="#8a8a8a"/><rect x="96.5" y="1127" width="1.8" height="22" fill="#8a8a8a"/>
<circle cx="1454.0" cy="1140.5" r="31" fill="#000" opacity="0.10" filter="url(#blur)"/><circle cx="1452.5" cy="1138.0" r="31" fill="#fff" stroke="#e0e0e0" stroke-width="1"/><rect x="1449.6" y="1127" width="1.8" height="22" fill="#8a8a8a"/><rect x="1455.9" y="1127" width="1.8" height="22" fill="#8a8a8a"/>
</svg>
</body></html>
